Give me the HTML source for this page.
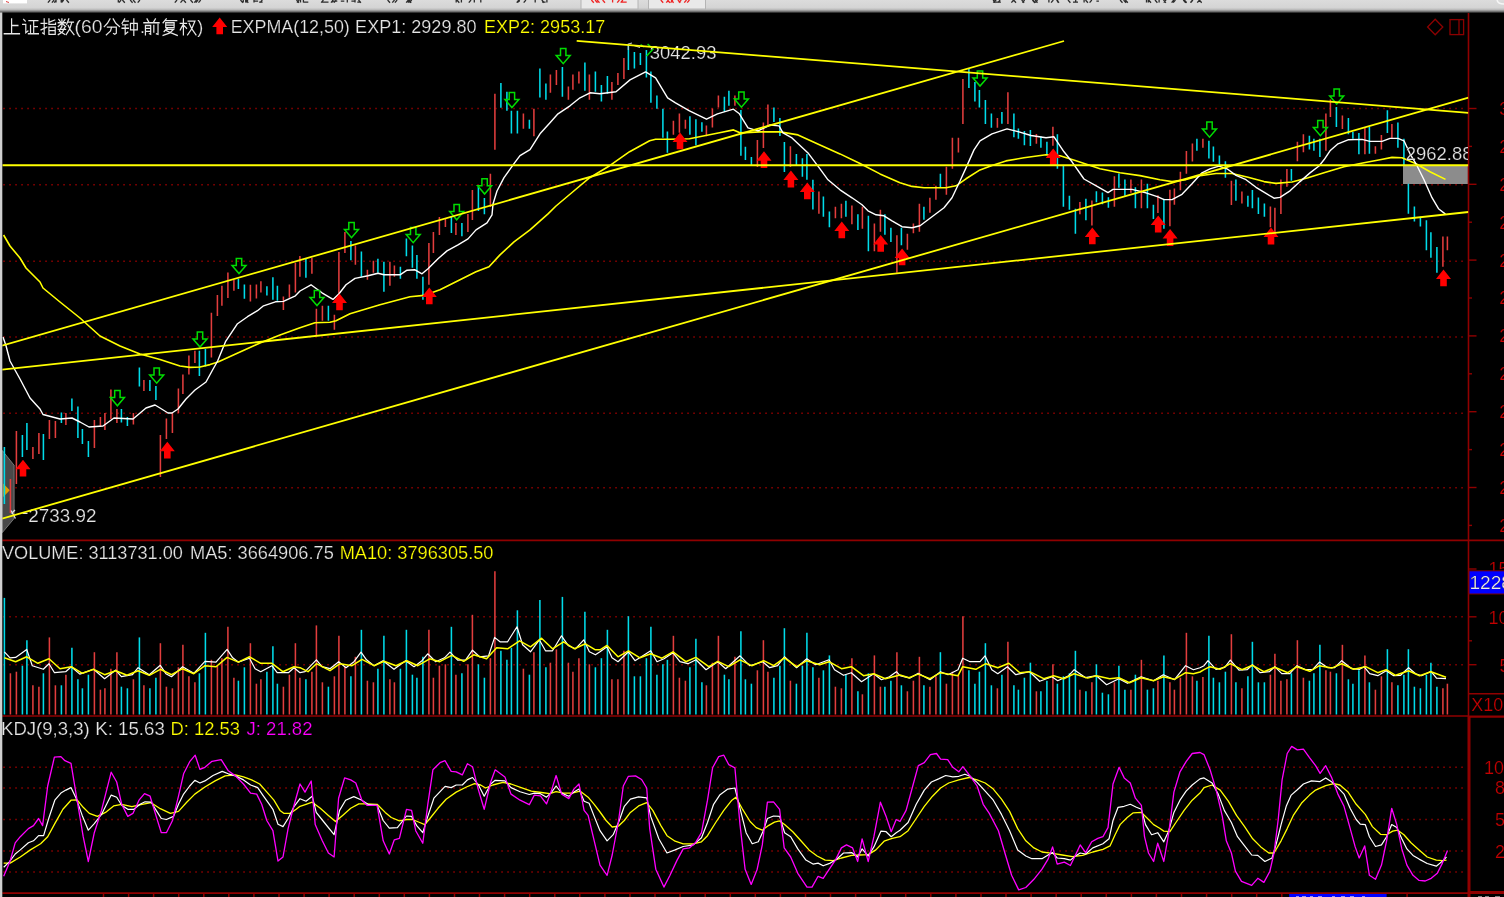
<!DOCTYPE html>
<html><head><meta charset="utf-8"><title>chart</title><style>html,body{margin:0;padding:0;background:#000;overflow:hidden}svg text{white-space:pre}</style></head><body><svg width="1504" height="897" viewBox="0 0 1504 897" style="display:block">
<defs><linearGradient id="tb" x1="0" y1="0" x2="0" y2="1"><stop offset="0" stop-color="#dcdcdc"/><stop offset="0.6" stop-color="#d4d4d4"/><stop offset="0.75" stop-color="#b8b8b8"/><stop offset="0.9" stop-color="#6a6a6a"/><stop offset="1" stop-color="#101010"/></linearGradient><clipPath id="cm"><rect x="2.3" y="12" width="1466" height="528"/></clipPath><clipPath id="ct"><rect x="0" y="0" width="1468" height="897"/></clipPath><path id="ra" d="M0,-0.3 L7.5,9.2 L3.3,9.2 L3.3,16.5 L-3.3,16.5 L-3.3,9.2 L-7.5,9.2 Z"/><path id="ga" d="M-2.7,0.6 L2.7,0.6 L2.7,7.6 L7,7.6 L0,15.8 L-7,7.6 L-2.7,7.6 Z"/></defs>
<rect width="1504" height="897" fill="#000"/>
<filter id="bl" x="0" y="0" width="1504" height="897" filterUnits="userSpaceOnUse"><feGaussianBlur stdDeviation="0.42"/></filter>
<g filter="url(#bl)">
<line x1="3.3" y1="108.5" x2="1464.5" y2="108.5" stroke="#920000" stroke-width="1.5" stroke-dasharray="1.5 4.5"/>
<line x1="3.3" y1="184.7" x2="1464.5" y2="184.7" stroke="#920000" stroke-width="1.5" stroke-dasharray="1.5 4.5"/>
<line x1="3.3" y1="261.3" x2="1464.5" y2="261.3" stroke="#920000" stroke-width="1.5" stroke-dasharray="1.5 4.5"/>
<line x1="3.3" y1="336.9" x2="1464.5" y2="336.9" stroke="#920000" stroke-width="1.5" stroke-dasharray="1.5 4.5"/>
<line x1="3.3" y1="413.2" x2="1464.5" y2="413.2" stroke="#920000" stroke-width="1.5" stroke-dasharray="1.5 4.5"/>
<line x1="3.3" y1="487.8" x2="1464.5" y2="487.8" stroke="#920000" stroke-width="1.5" stroke-dasharray="1.5 4.5"/>
<line x1="3.3" y1="616.8" x2="1464.5" y2="616.8" stroke="#920000" stroke-width="1.5" stroke-dasharray="1.5 4.5"/>
<line x1="3.3" y1="664.7" x2="1464.5" y2="664.7" stroke="#920000" stroke-width="1.5" stroke-dasharray="1.5 4.5"/>
<line x1="3.3" y1="767.3" x2="1464.5" y2="767.3" stroke="#920000" stroke-width="1.5" stroke-dasharray="1.5 4.5"/>
<line x1="3.3" y1="788.0" x2="1464.5" y2="788.0" stroke="#920000" stroke-width="1.5" stroke-dasharray="1.5 4.5"/>
<line x1="3.3" y1="819.5" x2="1464.5" y2="819.5" stroke="#920000" stroke-width="1.5" stroke-dasharray="1.5 4.5"/>
<line x1="3.3" y1="851.0" x2="1464.5" y2="851.0" stroke="#920000" stroke-width="1.5" stroke-dasharray="1.5 4.5"/>
<line x1="3.3" y1="872.1" x2="1464.5" y2="872.1" stroke="#920000" stroke-width="1.5" stroke-dasharray="1.5 4.5"/>
<polygon points="2.3,450.5 14.1,465.3 14.1,518.5 2.3,532.6" fill="#484848" fill-opacity="1" stroke="#8a8a8a" stroke-width="1" stroke-opacity="0.8"/>
<polygon points="3.2,483.6 9.8,490.3 3.2,497" fill="#e0a000"/>
<g clip-path="url(#cm)">
<rect x="1403" y="166" width="65.5" height="18" fill="#8c8c8c"/>
<line x1="4.4" y1="447.0" x2="4.4" y2="504.0" stroke="#00dcea" stroke-width="1.55"/>
<line x1="10.4" y1="479.0" x2="10.4" y2="513.0" stroke="#e23c3c" stroke-width="1.55"/>
<line x1="16.4" y1="431.0" x2="16.4" y2="484.0" stroke="#e23c3c" stroke-width="1.55"/>
<line x1="22.4" y1="435.0" x2="22.4" y2="457.0" stroke="#00dcea" stroke-width="1.55"/>
<line x1="26.9" y1="423.0" x2="26.9" y2="450.0" stroke="#00dcea" stroke-width="1.55"/>
<line x1="32.9" y1="447.0" x2="32.9" y2="459.0" stroke="#e23c3c" stroke-width="1.55"/>
<line x1="38.9" y1="433.0" x2="38.9" y2="454.0" stroke="#e23c3c" stroke-width="1.55"/>
<line x1="43.4" y1="434.0" x2="43.4" y2="460.0" stroke="#00dcea" stroke-width="1.55"/>
<line x1="49.4" y1="420.0" x2="49.4" y2="439.0" stroke="#e23c3c" stroke-width="1.55"/>
<line x1="55.4" y1="421.0" x2="55.4" y2="438.0" stroke="#e23c3c" stroke-width="1.55"/>
<line x1="61.4" y1="412.5" x2="61.4" y2="423.0" stroke="#00dcea" stroke-width="1.55"/>
<line x1="65.9" y1="413.0" x2="65.9" y2="425.0" stroke="#e23c3c" stroke-width="1.55"/>
<line x1="71.9" y1="398.5" x2="71.9" y2="411.0" stroke="#00dcea" stroke-width="1.55"/>
<line x1="77.9" y1="406.5" x2="77.9" y2="438.0" stroke="#00dcea" stroke-width="1.55"/>
<line x1="82.4" y1="429.0" x2="82.4" y2="444.0" stroke="#00dcea" stroke-width="1.55"/>
<line x1="88.4" y1="441.0" x2="88.4" y2="457.0" stroke="#00dcea" stroke-width="1.55"/>
<line x1="94.4" y1="420.0" x2="94.4" y2="448.0" stroke="#e23c3c" stroke-width="1.55"/>
<line x1="100.4" y1="417.0" x2="100.4" y2="427.0" stroke="#e23c3c" stroke-width="1.55"/>
<line x1="104.9" y1="413.0" x2="104.9" y2="430.0" stroke="#e23c3c" stroke-width="1.55"/>
<line x1="110.9" y1="389.5" x2="110.9" y2="419.0" stroke="#e23c3c" stroke-width="1.55"/>
<line x1="116.9" y1="409.0" x2="116.9" y2="423.0" stroke="#e23c3c" stroke-width="1.55"/>
<line x1="121.4" y1="409.0" x2="121.4" y2="422.5" stroke="#00dcea" stroke-width="1.55"/>
<line x1="127.4" y1="417.0" x2="127.4" y2="426.0" stroke="#00dcea" stroke-width="1.55"/>
<line x1="133.4" y1="413.0" x2="133.4" y2="424.5" stroke="#e23c3c" stroke-width="1.55"/>
<line x1="139.4" y1="367.4" x2="139.4" y2="386.5" stroke="#00dcea" stroke-width="1.55"/>
<line x1="143.9" y1="380.0" x2="143.9" y2="391.0" stroke="#e23c3c" stroke-width="1.55"/>
<line x1="149.9" y1="380.0" x2="149.9" y2="391.0" stroke="#00dcea" stroke-width="1.55"/>
<line x1="155.9" y1="386.0" x2="155.9" y2="400.0" stroke="#00dcea" stroke-width="1.55"/>
<line x1="160.4" y1="435.0" x2="160.4" y2="477.0" stroke="#e23c3c" stroke-width="1.55"/>
<line x1="166.4" y1="418.5" x2="166.4" y2="439.0" stroke="#e23c3c" stroke-width="1.55"/>
<line x1="172.4" y1="413.0" x2="172.4" y2="433.0" stroke="#e23c3c" stroke-width="1.55"/>
<line x1="178.4" y1="388.5" x2="178.4" y2="413.0" stroke="#e23c3c" stroke-width="1.55"/>
<line x1="182.9" y1="374.5" x2="182.9" y2="394.0" stroke="#e23c3c" stroke-width="1.55"/>
<line x1="188.9" y1="355.6" x2="188.9" y2="374.5" stroke="#e23c3c" stroke-width="1.55"/>
<line x1="194.9" y1="350.7" x2="194.9" y2="363.0" stroke="#e23c3c" stroke-width="1.55"/>
<line x1="199.4" y1="350.7" x2="199.4" y2="376.0" stroke="#00dcea" stroke-width="1.55"/>
<line x1="205.4" y1="349.0" x2="205.4" y2="366.6" stroke="#00dcea" stroke-width="1.55"/>
<line x1="211.4" y1="312.7" x2="211.4" y2="357.6" stroke="#e23c3c" stroke-width="1.55"/>
<line x1="217.4" y1="295.0" x2="217.4" y2="316.0" stroke="#e23c3c" stroke-width="1.55"/>
<line x1="221.9" y1="285.8" x2="221.9" y2="305.8" stroke="#e23c3c" stroke-width="1.55"/>
<line x1="227.9" y1="272.4" x2="227.9" y2="298.0" stroke="#e23c3c" stroke-width="1.55"/>
<line x1="233.9" y1="279.8" x2="233.9" y2="290.8" stroke="#e23c3c" stroke-width="1.55"/>
<line x1="238.4" y1="278.8" x2="238.4" y2="289.0" stroke="#00dcea" stroke-width="1.55"/>
<line x1="244.4" y1="284.4" x2="244.4" y2="298.8" stroke="#00dcea" stroke-width="1.55"/>
<line x1="250.4" y1="284.8" x2="250.4" y2="301.4" stroke="#e23c3c" stroke-width="1.55"/>
<line x1="256.4" y1="284.4" x2="256.4" y2="298.4" stroke="#e23c3c" stroke-width="1.55"/>
<line x1="260.9" y1="281.2" x2="260.9" y2="292.4" stroke="#e23c3c" stroke-width="1.55"/>
<line x1="266.9" y1="286.2" x2="266.9" y2="295.4" stroke="#00dcea" stroke-width="1.55"/>
<line x1="272.9" y1="277.2" x2="272.9" y2="299.8" stroke="#00dcea" stroke-width="1.55"/>
<line x1="277.4" y1="285.8" x2="277.4" y2="300.8" stroke="#00dcea" stroke-width="1.55"/>
<line x1="283.4" y1="296.4" x2="283.4" y2="310.0" stroke="#e23c3c" stroke-width="1.55"/>
<line x1="289.4" y1="284.4" x2="289.4" y2="297.8" stroke="#e23c3c" stroke-width="1.55"/>
<line x1="295.4" y1="262.8" x2="295.4" y2="292.4" stroke="#e23c3c" stroke-width="1.55"/>
<line x1="299.9" y1="256.0" x2="299.9" y2="276.8" stroke="#e23c3c" stroke-width="1.55"/>
<line x1="305.9" y1="258.8" x2="305.9" y2="277.8" stroke="#00dcea" stroke-width="1.55"/>
<line x1="311.9" y1="257.8" x2="311.9" y2="273.8" stroke="#e23c3c" stroke-width="1.55"/>
<line x1="316.4" y1="308.7" x2="316.4" y2="335.7" stroke="#e23c3c" stroke-width="1.55"/>
<line x1="322.4" y1="305.8" x2="322.4" y2="320.7" stroke="#e23c3c" stroke-width="1.55"/>
<line x1="328.4" y1="305.8" x2="328.4" y2="320.7" stroke="#00dcea" stroke-width="1.55"/>
<line x1="334.4" y1="314.7" x2="334.4" y2="329.7" stroke="#e23c3c" stroke-width="1.55"/>
<line x1="338.9" y1="251.9" x2="338.9" y2="293.8" stroke="#e23c3c" stroke-width="1.55"/>
<line x1="344.9" y1="231.9" x2="344.9" y2="252.9" stroke="#e23c3c" stroke-width="1.55"/>
<line x1="350.9" y1="240.9" x2="350.9" y2="260.2" stroke="#00dcea" stroke-width="1.55"/>
<line x1="355.4" y1="245.5" x2="355.4" y2="264.8" stroke="#e23c3c" stroke-width="1.55"/>
<line x1="361.4" y1="251.5" x2="361.4" y2="276.8" stroke="#00dcea" stroke-width="1.55"/>
<line x1="367.4" y1="269.8" x2="367.4" y2="279.8" stroke="#e23c3c" stroke-width="1.55"/>
<line x1="373.4" y1="260.8" x2="373.4" y2="272.8" stroke="#e23c3c" stroke-width="1.55"/>
<line x1="377.9" y1="258.8" x2="377.9" y2="272.8" stroke="#00dcea" stroke-width="1.55"/>
<line x1="383.9" y1="261.8" x2="383.9" y2="291.8" stroke="#00dcea" stroke-width="1.55"/>
<line x1="389.9" y1="261.8" x2="389.9" y2="285.8" stroke="#e23c3c" stroke-width="1.55"/>
<line x1="394.4" y1="265.4" x2="394.4" y2="276.8" stroke="#e23c3c" stroke-width="1.55"/>
<line x1="400.4" y1="266.8" x2="400.4" y2="278.8" stroke="#00dcea" stroke-width="1.55"/>
<line x1="406.4" y1="238.5" x2="406.4" y2="256.3" stroke="#00dcea" stroke-width="1.55"/>
<line x1="412.4" y1="245.5" x2="412.4" y2="267.8" stroke="#00dcea" stroke-width="1.55"/>
<line x1="416.9" y1="254.9" x2="416.9" y2="278.8" stroke="#00dcea" stroke-width="1.55"/>
<line x1="422.9" y1="276.8" x2="422.9" y2="299.8" stroke="#00dcea" stroke-width="1.55"/>
<line x1="428.9" y1="242.9" x2="428.9" y2="284.8" stroke="#e23c3c" stroke-width="1.55"/>
<line x1="433.4" y1="231.9" x2="433.4" y2="252.9" stroke="#e23c3c" stroke-width="1.55"/>
<line x1="439.4" y1="216.9" x2="439.4" y2="234.9" stroke="#e23c3c" stroke-width="1.55"/>
<line x1="445.4" y1="218.9" x2="445.4" y2="226.9" stroke="#e23c3c" stroke-width="1.55"/>
<line x1="451.4" y1="215.9" x2="451.4" y2="232.9" stroke="#00dcea" stroke-width="1.55"/>
<line x1="455.9" y1="222.9" x2="455.9" y2="234.9" stroke="#e23c3c" stroke-width="1.55"/>
<line x1="461.9" y1="222.9" x2="461.9" y2="236.3" stroke="#00dcea" stroke-width="1.55"/>
<line x1="467.9" y1="213.9" x2="467.9" y2="231.9" stroke="#e23c3c" stroke-width="1.55"/>
<line x1="472.4" y1="190.0" x2="472.4" y2="219.9" stroke="#e23c3c" stroke-width="1.55"/>
<line x1="478.4" y1="187.0" x2="478.4" y2="210.9" stroke="#00dcea" stroke-width="1.55"/>
<line x1="484.4" y1="198.0" x2="484.4" y2="214.3" stroke="#00dcea" stroke-width="1.55"/>
<line x1="490.4" y1="173.7" x2="490.4" y2="207.0" stroke="#e23c3c" stroke-width="1.55"/>
<line x1="494.9" y1="93.8" x2="494.9" y2="149.7" stroke="#e23c3c" stroke-width="1.55"/>
<line x1="500.9" y1="82.9" x2="500.9" y2="107.8" stroke="#00dcea" stroke-width="1.55"/>
<line x1="506.9" y1="91.8" x2="506.9" y2="110.8" stroke="#00dcea" stroke-width="1.55"/>
<line x1="511.4" y1="110.8" x2="511.4" y2="133.4" stroke="#00dcea" stroke-width="1.55"/>
<line x1="517.4" y1="110.8" x2="517.4" y2="133.4" stroke="#00dcea" stroke-width="1.55"/>
<line x1="523.4" y1="113.4" x2="523.4" y2="128.8" stroke="#e23c3c" stroke-width="1.55"/>
<line x1="529.4" y1="119.8" x2="529.4" y2="128.8" stroke="#00dcea" stroke-width="1.55"/>
<line x1="533.9" y1="108.8" x2="533.9" y2="136.2" stroke="#e23c3c" stroke-width="1.55"/>
<line x1="539.9" y1="68.5" x2="539.9" y2="97.4" stroke="#00dcea" stroke-width="1.55"/>
<line x1="545.9" y1="83.5" x2="545.9" y2="99.8" stroke="#00dcea" stroke-width="1.55"/>
<line x1="550.4" y1="74.5" x2="550.4" y2="92.8" stroke="#e23c3c" stroke-width="1.55"/>
<line x1="556.4" y1="69.9" x2="556.4" y2="84.9" stroke="#e23c3c" stroke-width="1.55"/>
<line x1="562.4" y1="66.9" x2="562.4" y2="96.8" stroke="#00dcea" stroke-width="1.55"/>
<line x1="568.4" y1="86.5" x2="568.4" y2="99.8" stroke="#e23c3c" stroke-width="1.55"/>
<line x1="572.9" y1="74.5" x2="572.9" y2="89.8" stroke="#e23c3c" stroke-width="1.55"/>
<line x1="578.9" y1="71.5" x2="578.9" y2="83.5" stroke="#e23c3c" stroke-width="1.55"/>
<line x1="584.9" y1="62.5" x2="584.9" y2="90.8" stroke="#00dcea" stroke-width="1.55"/>
<line x1="589.4" y1="74.5" x2="589.4" y2="99.8" stroke="#e23c3c" stroke-width="1.55"/>
<line x1="595.4" y1="71.5" x2="595.4" y2="91.8" stroke="#00dcea" stroke-width="1.55"/>
<line x1="601.4" y1="84.9" x2="601.4" y2="101.4" stroke="#00dcea" stroke-width="1.55"/>
<line x1="607.4" y1="75.9" x2="607.4" y2="93.8" stroke="#00dcea" stroke-width="1.55"/>
<line x1="611.9" y1="81.9" x2="611.9" y2="99.8" stroke="#e23c3c" stroke-width="1.55"/>
<line x1="617.9" y1="72.9" x2="617.9" y2="84.9" stroke="#e23c3c" stroke-width="1.55"/>
<line x1="623.9" y1="57.9" x2="623.9" y2="78.9" stroke="#e23c3c" stroke-width="1.55"/>
<line x1="628.4" y1="44.9" x2="628.4" y2="69.9" stroke="#00dcea" stroke-width="1.55"/>
<line x1="634.4" y1="51.9" x2="634.4" y2="68.5" stroke="#00dcea" stroke-width="1.55"/>
<line x1="640.4" y1="52.9" x2="640.4" y2="64.9" stroke="#00dcea" stroke-width="1.55"/>
<line x1="646.4" y1="49.9" x2="646.4" y2="77.5" stroke="#00dcea" stroke-width="1.55"/>
<line x1="650.9" y1="71.5" x2="650.9" y2="102.8" stroke="#00dcea" stroke-width="1.55"/>
<line x1="656.9" y1="95.4" x2="656.9" y2="108.8" stroke="#00dcea" stroke-width="1.55"/>
<line x1="662.9" y1="108.8" x2="662.9" y2="137.7" stroke="#00dcea" stroke-width="1.55"/>
<line x1="667.4" y1="131.4" x2="667.4" y2="152.7" stroke="#00dcea" stroke-width="1.55"/>
<line x1="673.4" y1="120.8" x2="673.4" y2="134.8" stroke="#e23c3c" stroke-width="1.55"/>
<line x1="679.4" y1="113.4" x2="679.4" y2="132.8" stroke="#e23c3c" stroke-width="1.55"/>
<line x1="685.4" y1="119.8" x2="685.4" y2="128.8" stroke="#e23c3c" stroke-width="1.55"/>
<line x1="689.9" y1="116.2" x2="689.9" y2="134.8" stroke="#00dcea" stroke-width="1.55"/>
<line x1="695.9" y1="119.2" x2="695.9" y2="145.3" stroke="#00dcea" stroke-width="1.55"/>
<line x1="701.9" y1="122.2" x2="701.9" y2="131.8" stroke="#00dcea" stroke-width="1.55"/>
<line x1="706.4" y1="125.4" x2="706.4" y2="136.2" stroke="#e23c3c" stroke-width="1.55"/>
<line x1="712.4" y1="108.4" x2="712.4" y2="127.4" stroke="#e23c3c" stroke-width="1.55"/>
<line x1="718.4" y1="95.4" x2="718.4" y2="107.4" stroke="#e23c3c" stroke-width="1.55"/>
<line x1="724.4" y1="96.8" x2="724.4" y2="111.8" stroke="#00dcea" stroke-width="1.55"/>
<line x1="728.9" y1="90.8" x2="728.9" y2="105.8" stroke="#00dcea" stroke-width="1.55"/>
<line x1="734.9" y1="95.4" x2="734.9" y2="105.8" stroke="#e23c3c" stroke-width="1.55"/>
<line x1="740.9" y1="110.0" x2="740.9" y2="155.8" stroke="#00dcea" stroke-width="1.55"/>
<line x1="745.4" y1="146.8" x2="745.4" y2="160.0" stroke="#00dcea" stroke-width="1.55"/>
<line x1="751.4" y1="156.9" x2="751.4" y2="164.9" stroke="#00dcea" stroke-width="1.55"/>
<line x1="757.4" y1="139.9" x2="757.4" y2="166.9" stroke="#e23c3c" stroke-width="1.55"/>
<line x1="763.4" y1="122.4" x2="763.4" y2="147.9" stroke="#e23c3c" stroke-width="1.55"/>
<line x1="767.9" y1="104.4" x2="767.9" y2="125.0" stroke="#e23c3c" stroke-width="1.55"/>
<line x1="773.9" y1="107.6" x2="773.9" y2="122.0" stroke="#00dcea" stroke-width="1.55"/>
<line x1="779.9" y1="118.0" x2="779.9" y2="135.9" stroke="#00dcea" stroke-width="1.55"/>
<line x1="784.4" y1="141.9" x2="784.4" y2="171.9" stroke="#00dcea" stroke-width="1.55"/>
<line x1="790.4" y1="146.3" x2="790.4" y2="166.9" stroke="#e23c3c" stroke-width="1.55"/>
<line x1="796.4" y1="153.9" x2="796.4" y2="164.9" stroke="#00dcea" stroke-width="1.55"/>
<line x1="802.4" y1="158.3" x2="802.4" y2="176.8" stroke="#00dcea" stroke-width="1.55"/>
<line x1="806.9" y1="153.9" x2="806.9" y2="179.8" stroke="#00dcea" stroke-width="1.55"/>
<line x1="812.9" y1="179.8" x2="812.9" y2="209.4" stroke="#00dcea" stroke-width="1.55"/>
<line x1="818.9" y1="191.4" x2="818.9" y2="213.8" stroke="#e23c3c" stroke-width="1.55"/>
<line x1="823.4" y1="196.4" x2="823.4" y2="216.8" stroke="#00dcea" stroke-width="1.55"/>
<line x1="829.4" y1="211.4" x2="829.4" y2="227.3" stroke="#00dcea" stroke-width="1.55"/>
<line x1="835.4" y1="206.8" x2="835.4" y2="218.2" stroke="#e23c3c" stroke-width="1.55"/>
<line x1="841.4" y1="203.8" x2="841.4" y2="218.2" stroke="#e23c3c" stroke-width="1.55"/>
<line x1="845.9" y1="200.8" x2="845.9" y2="216.8" stroke="#00dcea" stroke-width="1.55"/>
<line x1="851.9" y1="205.4" x2="851.9" y2="224.2" stroke="#e23c3c" stroke-width="1.55"/>
<line x1="857.9" y1="214.2" x2="857.9" y2="230.1" stroke="#00dcea" stroke-width="1.55"/>
<line x1="862.4" y1="206.8" x2="862.4" y2="228.7" stroke="#e23c3c" stroke-width="1.55"/>
<line x1="868.4" y1="215.8" x2="868.4" y2="251.3" stroke="#00dcea" stroke-width="1.55"/>
<line x1="874.4" y1="223.4" x2="874.4" y2="251.3" stroke="#e23c3c" stroke-width="1.55"/>
<line x1="880.4" y1="209.8" x2="880.4" y2="231.7" stroke="#e23c3c" stroke-width="1.55"/>
<line x1="884.9" y1="214.2" x2="884.9" y2="234.7" stroke="#00dcea" stroke-width="1.55"/>
<line x1="890.9" y1="227.7" x2="890.9" y2="242.1" stroke="#00dcea" stroke-width="1.55"/>
<line x1="896.9" y1="235.3" x2="896.9" y2="272.7" stroke="#e23c3c" stroke-width="1.55"/>
<line x1="901.4" y1="227.7" x2="901.4" y2="245.3" stroke="#00dcea" stroke-width="1.55"/>
<line x1="907.4" y1="233.7" x2="907.4" y2="249.7" stroke="#e23c3c" stroke-width="1.55"/>
<line x1="913.4" y1="223.4" x2="913.4" y2="233.3" stroke="#e23c3c" stroke-width="1.55"/>
<line x1="919.4" y1="203.8" x2="919.4" y2="231.7" stroke="#e23c3c" stroke-width="1.55"/>
<line x1="923.9" y1="206.8" x2="923.9" y2="219.8" stroke="#00dcea" stroke-width="1.55"/>
<line x1="929.9" y1="197.8" x2="929.9" y2="212.8" stroke="#e23c3c" stroke-width="1.55"/>
<line x1="935.9" y1="185.8" x2="935.9" y2="199.8" stroke="#e23c3c" stroke-width="1.55"/>
<line x1="940.4" y1="173.8" x2="940.4" y2="187.0" stroke="#00dcea" stroke-width="1.55"/>
<line x1="946.4" y1="166.8" x2="946.4" y2="194.8" stroke="#e23c3c" stroke-width="1.55"/>
<line x1="952.4" y1="137.8" x2="952.4" y2="168.8" stroke="#e23c3c" stroke-width="1.55"/>
<line x1="958.4" y1="137.8" x2="958.4" y2="152.5" stroke="#e23c3c" stroke-width="1.55"/>
<line x1="962.9" y1="78.9" x2="962.9" y2="123.9" stroke="#e23c3c" stroke-width="1.55"/>
<line x1="968.9" y1="67.9" x2="968.9" y2="87.9" stroke="#00dcea" stroke-width="1.55"/>
<line x1="974.9" y1="81.9" x2="974.9" y2="101.5" stroke="#00dcea" stroke-width="1.55"/>
<line x1="979.4" y1="89.9" x2="979.4" y2="107.5" stroke="#00dcea" stroke-width="1.55"/>
<line x1="985.4" y1="99.9" x2="985.4" y2="123.9" stroke="#00dcea" stroke-width="1.55"/>
<line x1="991.4" y1="113.5" x2="991.4" y2="127.8" stroke="#00dcea" stroke-width="1.55"/>
<line x1="997.4" y1="118.1" x2="997.4" y2="127.8" stroke="#e23c3c" stroke-width="1.55"/>
<line x1="1001.9" y1="111.9" x2="1001.9" y2="123.7" stroke="#00dcea" stroke-width="1.55"/>
<line x1="1007.9" y1="92.3" x2="1007.9" y2="123.9" stroke="#e23c3c" stroke-width="1.55"/>
<line x1="1013.9" y1="113.5" x2="1013.9" y2="137.2" stroke="#00dcea" stroke-width="1.55"/>
<line x1="1018.4" y1="128.4" x2="1018.4" y2="138.8" stroke="#00dcea" stroke-width="1.55"/>
<line x1="1024.4" y1="131.1" x2="1024.4" y2="145.2" stroke="#00dcea" stroke-width="1.55"/>
<line x1="1030.4" y1="130.0" x2="1030.4" y2="146.0" stroke="#00dcea" stroke-width="1.55"/>
<line x1="1036.4" y1="134.0" x2="1036.4" y2="143.8" stroke="#e23c3c" stroke-width="1.55"/>
<line x1="1040.9" y1="136.4" x2="1040.9" y2="147.8" stroke="#00dcea" stroke-width="1.55"/>
<line x1="1046.9" y1="141.8" x2="1046.9" y2="154.8" stroke="#00dcea" stroke-width="1.55"/>
<line x1="1052.9" y1="126.8" x2="1052.9" y2="145.8" stroke="#e23c3c" stroke-width="1.55"/>
<line x1="1057.4" y1="134.2" x2="1057.4" y2="168.8" stroke="#00dcea" stroke-width="1.55"/>
<line x1="1063.4" y1="165.8" x2="1063.4" y2="206.8" stroke="#00dcea" stroke-width="1.55"/>
<line x1="1069.4" y1="195.8" x2="1069.4" y2="209.8" stroke="#00dcea" stroke-width="1.55"/>
<line x1="1075.4" y1="208.8" x2="1075.4" y2="233.8" stroke="#00dcea" stroke-width="1.55"/>
<line x1="1079.9" y1="202.0" x2="1079.9" y2="214.3" stroke="#e23c3c" stroke-width="1.55"/>
<line x1="1085.9" y1="198.8" x2="1085.9" y2="220.3" stroke="#00dcea" stroke-width="1.55"/>
<line x1="1091.9" y1="200.5" x2="1091.9" y2="225.4" stroke="#e23c3c" stroke-width="1.55"/>
<line x1="1096.4" y1="191.3" x2="1096.4" y2="202.2" stroke="#00dcea" stroke-width="1.55"/>
<line x1="1102.4" y1="192.5" x2="1102.4" y2="204.3" stroke="#00dcea" stroke-width="1.55"/>
<line x1="1108.4" y1="197.3" x2="1108.4" y2="207.8" stroke="#00dcea" stroke-width="1.55"/>
<line x1="1114.4" y1="176.3" x2="1114.4" y2="206.8" stroke="#e23c3c" stroke-width="1.55"/>
<line x1="1118.9" y1="173.6" x2="1118.9" y2="187.8" stroke="#00dcea" stroke-width="1.55"/>
<line x1="1124.9" y1="179.6" x2="1124.9" y2="195.8" stroke="#00dcea" stroke-width="1.55"/>
<line x1="1130.9" y1="179.6" x2="1130.9" y2="192.8" stroke="#e23c3c" stroke-width="1.55"/>
<line x1="1135.4" y1="187.3" x2="1135.4" y2="208.3" stroke="#00dcea" stroke-width="1.55"/>
<line x1="1141.4" y1="179.6" x2="1141.4" y2="208.3" stroke="#e23c3c" stroke-width="1.55"/>
<line x1="1147.4" y1="183.8" x2="1147.4" y2="208.3" stroke="#00dcea" stroke-width="1.55"/>
<line x1="1153.4" y1="204.8" x2="1153.4" y2="218.9" stroke="#00dcea" stroke-width="1.55"/>
<line x1="1157.9" y1="195.3" x2="1157.9" y2="212.9" stroke="#e23c3c" stroke-width="1.55"/>
<line x1="1163.9" y1="198.8" x2="1163.9" y2="228.8" stroke="#00dcea" stroke-width="1.55"/>
<line x1="1169.9" y1="189.8" x2="1169.9" y2="226.2" stroke="#e23c3c" stroke-width="1.55"/>
<line x1="1174.4" y1="188.5" x2="1174.4" y2="204.8" stroke="#e23c3c" stroke-width="1.55"/>
<line x1="1180.4" y1="171.8" x2="1180.4" y2="190.3" stroke="#e23c3c" stroke-width="1.55"/>
<line x1="1186.4" y1="150.9" x2="1186.4" y2="173.8" stroke="#e23c3c" stroke-width="1.55"/>
<line x1="1192.4" y1="143.4" x2="1192.4" y2="161.4" stroke="#e23c3c" stroke-width="1.55"/>
<line x1="1196.9" y1="138.8" x2="1196.9" y2="150.8" stroke="#00dcea" stroke-width="1.55"/>
<line x1="1202.9" y1="138.8" x2="1202.9" y2="147.8" stroke="#e23c3c" stroke-width="1.55"/>
<line x1="1208.9" y1="140.8" x2="1208.9" y2="158.6" stroke="#00dcea" stroke-width="1.55"/>
<line x1="1213.4" y1="146.5" x2="1213.4" y2="161.7" stroke="#00dcea" stroke-width="1.55"/>
<line x1="1219.4" y1="155.5" x2="1219.4" y2="165.9" stroke="#00dcea" stroke-width="1.55"/>
<line x1="1225.4" y1="161.3" x2="1225.4" y2="177.8" stroke="#00dcea" stroke-width="1.55"/>
<line x1="1231.4" y1="180.8" x2="1231.4" y2="205.0" stroke="#e23c3c" stroke-width="1.55"/>
<line x1="1235.9" y1="179.4" x2="1235.9" y2="200.8" stroke="#00dcea" stroke-width="1.55"/>
<line x1="1241.9" y1="191.4" x2="1241.9" y2="203.6" stroke="#e23c3c" stroke-width="1.55"/>
<line x1="1247.9" y1="195.8" x2="1247.9" y2="206.8" stroke="#00dcea" stroke-width="1.55"/>
<line x1="1252.4" y1="190.0" x2="1252.4" y2="208.2" stroke="#00dcea" stroke-width="1.55"/>
<line x1="1258.4" y1="197.4" x2="1258.4" y2="214.0" stroke="#00dcea" stroke-width="1.55"/>
<line x1="1264.4" y1="203.4" x2="1264.4" y2="216.8" stroke="#00dcea" stroke-width="1.55"/>
<line x1="1270.4" y1="206.5" x2="1270.4" y2="227.3" stroke="#e23c3c" stroke-width="1.55"/>
<line x1="1274.9" y1="207.8" x2="1274.9" y2="233.8" stroke="#e23c3c" stroke-width="1.55"/>
<line x1="1280.9" y1="179.5" x2="1280.9" y2="214.0" stroke="#e23c3c" stroke-width="1.55"/>
<line x1="1286.9" y1="168.9" x2="1286.9" y2="186.8" stroke="#e23c3c" stroke-width="1.55"/>
<line x1="1291.4" y1="168.9" x2="1291.4" y2="180.8" stroke="#00dcea" stroke-width="1.55"/>
<line x1="1297.4" y1="141.8" x2="1297.4" y2="161.2" stroke="#e23c3c" stroke-width="1.55"/>
<line x1="1303.4" y1="134.3" x2="1303.4" y2="152.3" stroke="#e23c3c" stroke-width="1.55"/>
<line x1="1309.4" y1="135.8" x2="1309.4" y2="149.4" stroke="#00dcea" stroke-width="1.55"/>
<line x1="1313.9" y1="138.8" x2="1313.9" y2="150.8" stroke="#00dcea" stroke-width="1.55"/>
<line x1="1319.9" y1="138.8" x2="1319.9" y2="156.9" stroke="#00dcea" stroke-width="1.55"/>
<line x1="1325.9" y1="113.5" x2="1325.9" y2="150.8" stroke="#e23c3c" stroke-width="1.55"/>
<line x1="1330.4" y1="99.5" x2="1330.4" y2="116.9" stroke="#e23c3c" stroke-width="1.55"/>
<line x1="1336.4" y1="106.9" x2="1336.4" y2="126.9" stroke="#00dcea" stroke-width="1.55"/>
<line x1="1342.4" y1="115.5" x2="1342.4" y2="128.9" stroke="#e23c3c" stroke-width="1.55"/>
<line x1="1348.4" y1="117.9" x2="1348.4" y2="134.3" stroke="#00dcea" stroke-width="1.55"/>
<line x1="1352.9" y1="131.9" x2="1352.9" y2="138.8" stroke="#00dcea" stroke-width="1.55"/>
<line x1="1358.9" y1="132.9" x2="1358.9" y2="154.2" stroke="#00dcea" stroke-width="1.55"/>
<line x1="1364.9" y1="127.9" x2="1364.9" y2="154.2" stroke="#e23c3c" stroke-width="1.55"/>
<line x1="1369.4" y1="126.9" x2="1369.4" y2="153.8" stroke="#00dcea" stroke-width="1.55"/>
<line x1="1375.4" y1="146.2" x2="1375.4" y2="153.8" stroke="#e23c3c" stroke-width="1.55"/>
<line x1="1381.4" y1="134.9" x2="1381.4" y2="149.4" stroke="#e23c3c" stroke-width="1.55"/>
<line x1="1387.4" y1="110.3" x2="1387.4" y2="132.9" stroke="#00dcea" stroke-width="1.55"/>
<line x1="1391.9" y1="123.9" x2="1391.9" y2="138.8" stroke="#e23c3c" stroke-width="1.55"/>
<line x1="1397.9" y1="122.5" x2="1397.9" y2="147.8" stroke="#00dcea" stroke-width="1.55"/>
<line x1="1403.9" y1="138.8" x2="1403.9" y2="165.8" stroke="#00dcea" stroke-width="1.55"/>
<line x1="1408.4" y1="183.8" x2="1408.4" y2="213.8" stroke="#00dcea" stroke-width="1.55"/>
<line x1="1414.4" y1="206.5" x2="1414.4" y2="221.4" stroke="#00dcea" stroke-width="1.55"/>
<line x1="1420.4" y1="216.8" x2="1420.4" y2="226.5" stroke="#00dcea" stroke-width="1.55"/>
<line x1="1426.4" y1="220.3" x2="1426.4" y2="250.3" stroke="#00dcea" stroke-width="1.55"/>
<line x1="1430.9" y1="232.2" x2="1430.9" y2="257.8" stroke="#00dcea" stroke-width="1.55"/>
<line x1="1436.9" y1="246.9" x2="1436.9" y2="272.8" stroke="#00dcea" stroke-width="1.55"/>
<line x1="1442.9" y1="236.4" x2="1442.9" y2="266.8" stroke="#e23c3c" stroke-width="1.55"/>
<line x1="1447.4" y1="236.4" x2="1447.4" y2="250.3" stroke="#e23c3c" stroke-width="1.55"/>
<polyline points="3.6,235.0 10.0,246.0 20.0,258.0 26.0,268.0 40.0,282.0 43.0,288.0 60.0,302.0 80.0,318.0 100.0,336.0 120.0,346.0 140.0,354.0 160.0,359.6 180.0,366.0 190.0,367.4 200.0,367.0 210.0,364.6 218.0,362.0 240.0,352.0 260.0,343.0 280.0,335.0 300.0,327.7 315.0,322.7 330.0,322.3 336.0,320.7 350.0,313.7 380.0,304.8 410.0,296.8 424.0,295.4 440.0,289.8 460.0,279.8 476.0,271.8 489.0,266.8 500.0,254.9 514.0,241.9 530.0,229.9 548.0,213.9 556.0,206.0 573.8,191.0 589.7,177.7 609.7,165.7 629.6,151.7 649.6,140.7 655.6,139.3 669.6,139.3 689.5,138.7 709.5,134.8 722.0,132.2 733.5,129.9 740.5,132.9 760.0,131.9 780.0,131.9 798.0,134.9 820.0,144.9 840.0,153.9 860.0,163.5 880.0,173.9 900.0,182.8 912.0,186.4 924.0,187.8 946.0,187.8 956.0,185.8 966.0,178.8 980.0,169.9 992.0,165.5 1006.0,160.9 1024.0,157.8 1046.0,154.8 1060.0,155.8 1076.0,160.8 1100.0,168.7 1120.0,172.7 1140.0,175.6 1160.0,179.8 1172.0,181.6 1186.0,179.6 1200.0,175.8 1216.0,173.5 1232.0,173.5 1248.0,177.3 1264.0,181.6 1276.0,183.4 1292.0,182.0 1308.0,177.8 1324.0,172.8 1344.0,166.8 1364.0,162.8 1380.0,159.8 1392.0,157.4 1402.0,157.8 1416.0,163.8 1430.0,171.8 1445.5,179.4" fill="none" stroke="#ffff00" stroke-width="1.6" stroke-linejoin="round"/>
<polyline points="3.0,337.0 6.0,345.7 10.0,361.0 20.0,379.0 30.0,398.0 40.0,409.0 43.0,414.5 60.0,419.0 72.0,418.0 80.0,422.0 89.0,427.0 103.0,426.0 114.0,418.0 133.0,419.0 146.0,408.0 155.0,405.0 160.0,408.0 168.0,413.0 172.0,413.0 178.0,409.0 186.0,399.0 195.0,390.0 206.0,382.0 212.0,371.0 217.6,361.0 225.5,341.7 237.5,323.7 247.5,316.7 257.5,310.7 263.5,305.8 275.4,301.8 283.4,301.4 295.4,295.8 300.0,291.0 311.0,284.8 322.0,292.8 333.0,299.4 339.0,293.8 346.0,284.8 355.0,278.4 368.0,275.8 378.0,273.2 384.0,274.8 400.0,274.8 407.0,270.2 415.0,269.8 422.0,273.8 428.0,268.8 438.0,258.8 447.0,250.9 458.0,244.9 468.0,238.9 476.0,229.9 487.0,222.9 492.0,214.9 493.0,204.0 497.0,191.0 504.0,177.7 514.0,163.7 520.0,155.7 530.0,149.7 540.0,133.8 550.0,122.8 558.0,113.8 570.0,105.8 580.0,97.8 590.0,92.8 600.0,93.8 616.0,91.8 630.0,79.9 645.6,71.9 655.6,77.9 667.6,97.8 675.5,102.8 689.5,110.8 706.5,119.2 717.5,113.8 733.4,109.2 739.4,113.8 748.0,127.9 758.0,130.9 770.0,125.0 779.0,125.9 783.0,132.9 792.0,137.9 808.0,152.9 820.0,168.9 828.0,179.8 840.0,189.8 852.0,197.8 862.0,204.8 868.0,210.8 876.0,214.8 884.0,215.8 892.0,220.8 902.0,226.7 912.0,227.7 920.0,225.7 932.0,216.8 944.0,207.8 952.0,197.8 960.0,181.0 966.0,167.9 974.0,149.9 980.0,140.9 992.0,133.9 1007.0,128.9 1019.0,131.9 1031.0,135.5 1046.0,137.8 1054.0,136.8 1064.0,151.8 1072.0,161.8 1084.0,179.0 1098.0,186.8 1108.0,192.6 1113.0,189.4 1132.0,189.4 1146.0,192.8 1158.0,196.8 1164.0,199.6 1172.0,199.6 1182.0,194.3 1192.0,183.8 1202.0,172.8 1210.0,168.8 1219.0,166.2 1227.0,168.8 1236.0,175.4 1246.0,179.7 1256.0,187.3 1266.0,193.3 1274.0,198.2 1280.0,197.4 1290.0,190.8 1300.0,181.6 1310.0,172.9 1319.0,166.0 1324.0,159.8 1330.0,150.8 1338.0,143.8 1348.0,139.8 1362.0,139.4 1370.0,141.4 1382.0,141.4 1390.0,138.4 1398.0,138.4 1404.0,140.8 1410.0,153.8 1416.0,163.8 1424.0,179.8 1432.0,197.7 1438.5,208.7 1445.5,214.1" fill="none" stroke="#ffffff" stroke-width="1.4" stroke-linejoin="round"/>
<use href="#ga" x="117.4" y="390" fill="none" stroke="#00dc00" stroke-width="1.5"/>
<use href="#ga" x="156.7" y="367.4" fill="none" stroke="#00dc00" stroke-width="1.5"/>
<use href="#ga" x="200" y="331.3" fill="none" stroke="#00dc00" stroke-width="1.5"/>
<use href="#ga" x="239" y="257.8" fill="none" stroke="#00dc00" stroke-width="1.5"/>
<use href="#ga" x="317" y="289.8" fill="none" stroke="#00dc00" stroke-width="1.5"/>
<use href="#ga" x="351.5" y="221.9" fill="none" stroke="#00dc00" stroke-width="1.5"/>
<use href="#ga" x="413.2" y="226.9" fill="none" stroke="#00dc00" stroke-width="1.5"/>
<use href="#ga" x="456.7" y="204" fill="none" stroke="#00dc00" stroke-width="1.5"/>
<use href="#ga" x="484.6" y="178.2" fill="none" stroke="#00dc00" stroke-width="1.5"/>
<use href="#ga" x="511.9" y="91.8" fill="none" stroke="#00dc00" stroke-width="1.5"/>
<use href="#ga" x="563.2" y="47.9" fill="none" stroke="#00dc00" stroke-width="1.5"/>
<path d="M640.6,44.5 L644.1,47.0 M647.6,44.0 L653.1,49.1 L646.6,56.0" fill="none" stroke="#00dc00" stroke-width="1.5"/>
<use href="#ga" x="741.4" y="91.4" fill="none" stroke="#00dc00" stroke-width="1.5"/>
<use href="#ga" x="980" y="70.3" fill="none" stroke="#00dc00" stroke-width="1.5"/>
<use href="#ga" x="1209.5" y="121.4" fill="none" stroke="#00dc00" stroke-width="1.5"/>
<use href="#ga" x="1320.4" y="119.9" fill="none" stroke="#00dc00" stroke-width="1.5"/>
<use href="#ga" x="1336.7" y="88.3" fill="none" stroke="#00dc00" stroke-width="1.5"/>
<use href="#ra" x="23" y="460" fill="#ff0000"/>
<use href="#ra" x="167.3" y="442" fill="#ff0000"/>
<use href="#ra" x="339.5" y="293.8" fill="#ff0000"/>
<use href="#ra" x="429.3" y="287.8" fill="#ff0000"/>
<use href="#ra" x="680" y="132.8" fill="#ff0000"/>
<use href="#ra" x="764" y="151.5" fill="#ff0000"/>
<use href="#ra" x="790.9" y="170.9" fill="#ff0000"/>
<use href="#ra" x="807.3" y="182.8" fill="#ff0000"/>
<use href="#ra" x="841.8" y="221.8" fill="#ff0000"/>
<use href="#ra" x="880.7" y="235.3" fill="#ff0000"/>
<use href="#ra" x="902.1" y="248.7" fill="#ff0000"/>
<use href="#ra" x="1053.2" y="148.8" fill="#ff0000"/>
<use href="#ra" x="1092.3" y="227.8" fill="#ff0000"/>
<use href="#ra" x="1158.2" y="215.9" fill="#ff0000"/>
<use href="#ra" x="1170.1" y="229.4" fill="#ff0000"/>
<use href="#ra" x="1271" y="227.9" fill="#ff0000"/>
<use href="#ra" x="1443.5" y="269.8" fill="#ff0000"/>
</g>
<path d="M628.3,43.5 L628.3,50 M628.3,44 L632,43 M634,45.5 L640,47.5" stroke="#c8c8c8" stroke-width="1.1" fill="none"/>
<path d="M11,510.5 L15.5,518.5 M15,510 L11.5,513.5 M22.5,513.3 L27.5,513.3" stroke="#e0e0e0" stroke-width="1.2" fill="none"/>
<line x1="4.4" y1="597.9" x2="4.4" y2="714.5" stroke="#00dcea" stroke-width="1.55"/>
<line x1="10.4" y1="673.3" x2="10.4" y2="714.5" stroke="#e23c3c" stroke-width="1.55"/>
<line x1="16.4" y1="671.7" x2="16.4" y2="714.5" stroke="#e23c3c" stroke-width="1.55"/>
<line x1="22.4" y1="665.7" x2="22.4" y2="714.5" stroke="#00dcea" stroke-width="1.55"/>
<line x1="26.9" y1="640.2" x2="26.9" y2="714.5" stroke="#00dcea" stroke-width="1.55"/>
<line x1="32.9" y1="685.3" x2="32.9" y2="714.5" stroke="#e23c3c" stroke-width="1.55"/>
<line x1="38.9" y1="686.7" x2="38.9" y2="714.5" stroke="#e23c3c" stroke-width="1.55"/>
<line x1="43.4" y1="673.3" x2="43.4" y2="714.5" stroke="#00dcea" stroke-width="1.55"/>
<line x1="49.4" y1="637.4" x2="49.4" y2="714.5" stroke="#e23c3c" stroke-width="1.55"/>
<line x1="55.4" y1="685.3" x2="55.4" y2="714.5" stroke="#e23c3c" stroke-width="1.55"/>
<line x1="61.4" y1="685.3" x2="61.4" y2="714.5" stroke="#00dcea" stroke-width="1.55"/>
<line x1="65.9" y1="674.7" x2="65.9" y2="714.5" stroke="#e23c3c" stroke-width="1.55"/>
<line x1="71.9" y1="647.8" x2="71.9" y2="714.5" stroke="#00dcea" stroke-width="1.55"/>
<line x1="77.9" y1="679.3" x2="77.9" y2="714.5" stroke="#00dcea" stroke-width="1.55"/>
<line x1="82.4" y1="688.3" x2="82.4" y2="714.5" stroke="#00dcea" stroke-width="1.55"/>
<line x1="88.4" y1="674.7" x2="88.4" y2="714.5" stroke="#00dcea" stroke-width="1.55"/>
<line x1="94.4" y1="652.2" x2="94.4" y2="714.5" stroke="#e23c3c" stroke-width="1.55"/>
<line x1="100.4" y1="689.7" x2="100.4" y2="714.5" stroke="#e23c3c" stroke-width="1.55"/>
<line x1="104.9" y1="688.3" x2="104.9" y2="714.5" stroke="#e23c3c" stroke-width="1.55"/>
<line x1="110.9" y1="668.7" x2="110.9" y2="714.5" stroke="#e23c3c" stroke-width="1.55"/>
<line x1="116.9" y1="652.2" x2="116.9" y2="714.5" stroke="#e23c3c" stroke-width="1.55"/>
<line x1="121.4" y1="686.7" x2="121.4" y2="714.5" stroke="#00dcea" stroke-width="1.55"/>
<line x1="127.4" y1="688.3" x2="127.4" y2="714.5" stroke="#00dcea" stroke-width="1.55"/>
<line x1="133.4" y1="679.3" x2="133.4" y2="714.5" stroke="#e23c3c" stroke-width="1.55"/>
<line x1="139.4" y1="637.4" x2="139.4" y2="714.5" stroke="#00dcea" stroke-width="1.55"/>
<line x1="143.9" y1="685.3" x2="143.9" y2="714.5" stroke="#e23c3c" stroke-width="1.55"/>
<line x1="149.9" y1="688.3" x2="149.9" y2="714.5" stroke="#00dcea" stroke-width="1.55"/>
<line x1="155.9" y1="677.7" x2="155.9" y2="714.5" stroke="#00dcea" stroke-width="1.55"/>
<line x1="160.4" y1="643.2" x2="160.4" y2="714.5" stroke="#e23c3c" stroke-width="1.55"/>
<line x1="166.4" y1="686.7" x2="166.4" y2="714.5" stroke="#e23c3c" stroke-width="1.55"/>
<line x1="172.4" y1="688.3" x2="172.4" y2="714.5" stroke="#e23c3c" stroke-width="1.55"/>
<line x1="178.4" y1="667.3" x2="178.4" y2="714.5" stroke="#e23c3c" stroke-width="1.55"/>
<line x1="182.9" y1="644.8" x2="182.9" y2="714.5" stroke="#e23c3c" stroke-width="1.55"/>
<line x1="188.9" y1="676.3" x2="188.9" y2="714.5" stroke="#e23c3c" stroke-width="1.55"/>
<line x1="194.9" y1="682.3" x2="194.9" y2="714.5" stroke="#e23c3c" stroke-width="1.55"/>
<line x1="199.4" y1="673.3" x2="199.4" y2="714.5" stroke="#00dcea" stroke-width="1.55"/>
<line x1="205.4" y1="632.8" x2="205.4" y2="714.5" stroke="#00dcea" stroke-width="1.55"/>
<line x1="211.4" y1="659.8" x2="211.4" y2="714.5" stroke="#e23c3c" stroke-width="1.55"/>
<line x1="217.4" y1="665.7" x2="217.4" y2="714.5" stroke="#e23c3c" stroke-width="1.55"/>
<line x1="221.9" y1="658.2" x2="221.9" y2="714.5" stroke="#e23c3c" stroke-width="1.55"/>
<line x1="227.9" y1="626.8" x2="227.9" y2="714.5" stroke="#e23c3c" stroke-width="1.55"/>
<line x1="233.9" y1="677.7" x2="233.9" y2="714.5" stroke="#e23c3c" stroke-width="1.55"/>
<line x1="238.4" y1="680.7" x2="238.4" y2="714.5" stroke="#00dcea" stroke-width="1.55"/>
<line x1="244.4" y1="667.3" x2="244.4" y2="714.5" stroke="#00dcea" stroke-width="1.55"/>
<line x1="250.4" y1="643.2" x2="250.4" y2="714.5" stroke="#e23c3c" stroke-width="1.55"/>
<line x1="256.4" y1="683.7" x2="256.4" y2="714.5" stroke="#e23c3c" stroke-width="1.55"/>
<line x1="260.9" y1="679.3" x2="260.9" y2="714.5" stroke="#e23c3c" stroke-width="1.55"/>
<line x1="266.9" y1="671.7" x2="266.9" y2="714.5" stroke="#00dcea" stroke-width="1.55"/>
<line x1="272.9" y1="646.2" x2="272.9" y2="714.5" stroke="#00dcea" stroke-width="1.55"/>
<line x1="277.4" y1="683.7" x2="277.4" y2="714.5" stroke="#00dcea" stroke-width="1.55"/>
<line x1="283.4" y1="686.7" x2="283.4" y2="714.5" stroke="#e23c3c" stroke-width="1.55"/>
<line x1="289.4" y1="674.7" x2="289.4" y2="714.5" stroke="#e23c3c" stroke-width="1.55"/>
<line x1="295.4" y1="643.2" x2="295.4" y2="714.5" stroke="#e23c3c" stroke-width="1.55"/>
<line x1="299.9" y1="677.7" x2="299.9" y2="714.5" stroke="#e23c3c" stroke-width="1.55"/>
<line x1="305.9" y1="679.3" x2="305.9" y2="714.5" stroke="#00dcea" stroke-width="1.55"/>
<line x1="311.9" y1="671.7" x2="311.9" y2="714.5" stroke="#e23c3c" stroke-width="1.55"/>
<line x1="316.4" y1="625.4" x2="316.4" y2="714.5" stroke="#e23c3c" stroke-width="1.55"/>
<line x1="322.4" y1="682.3" x2="322.4" y2="714.5" stroke="#e23c3c" stroke-width="1.55"/>
<line x1="328.4" y1="686.7" x2="328.4" y2="714.5" stroke="#00dcea" stroke-width="1.55"/>
<line x1="334.4" y1="676.3" x2="334.4" y2="714.5" stroke="#e23c3c" stroke-width="1.55"/>
<line x1="338.9" y1="635.8" x2="338.9" y2="714.5" stroke="#e23c3c" stroke-width="1.55"/>
<line x1="344.9" y1="666.7" x2="344.9" y2="714.5" stroke="#e23c3c" stroke-width="1.55"/>
<line x1="350.9" y1="676.3" x2="350.9" y2="714.5" stroke="#00dcea" stroke-width="1.55"/>
<line x1="355.4" y1="656.8" x2="355.4" y2="714.5" stroke="#e23c3c" stroke-width="1.55"/>
<line x1="361.4" y1="629.8" x2="361.4" y2="714.5" stroke="#00dcea" stroke-width="1.55"/>
<line x1="367.4" y1="680.7" x2="367.4" y2="714.5" stroke="#e23c3c" stroke-width="1.55"/>
<line x1="373.4" y1="682.3" x2="373.4" y2="714.5" stroke="#e23c3c" stroke-width="1.55"/>
<line x1="377.9" y1="668.7" x2="377.9" y2="714.5" stroke="#00dcea" stroke-width="1.55"/>
<line x1="383.9" y1="635.8" x2="383.9" y2="714.5" stroke="#00dcea" stroke-width="1.55"/>
<line x1="389.9" y1="679.3" x2="389.9" y2="714.5" stroke="#e23c3c" stroke-width="1.55"/>
<line x1="394.4" y1="682.3" x2="394.4" y2="714.5" stroke="#e23c3c" stroke-width="1.55"/>
<line x1="400.4" y1="668.7" x2="400.4" y2="714.5" stroke="#00dcea" stroke-width="1.55"/>
<line x1="406.4" y1="629.8" x2="406.4" y2="714.5" stroke="#00dcea" stroke-width="1.55"/>
<line x1="412.4" y1="674.7" x2="412.4" y2="714.5" stroke="#00dcea" stroke-width="1.55"/>
<line x1="416.9" y1="677.7" x2="416.9" y2="714.5" stroke="#00dcea" stroke-width="1.55"/>
<line x1="422.9" y1="656.8" x2="422.9" y2="714.5" stroke="#00dcea" stroke-width="1.55"/>
<line x1="428.9" y1="629.8" x2="428.9" y2="714.5" stroke="#e23c3c" stroke-width="1.55"/>
<line x1="433.4" y1="677.7" x2="433.4" y2="714.5" stroke="#e23c3c" stroke-width="1.55"/>
<line x1="439.4" y1="665.7" x2="439.4" y2="714.5" stroke="#e23c3c" stroke-width="1.55"/>
<line x1="445.4" y1="664.3" x2="445.4" y2="714.5" stroke="#e23c3c" stroke-width="1.55"/>
<line x1="451.4" y1="626.8" x2="451.4" y2="714.5" stroke="#00dcea" stroke-width="1.55"/>
<line x1="455.9" y1="674.7" x2="455.9" y2="714.5" stroke="#e23c3c" stroke-width="1.55"/>
<line x1="461.9" y1="673.3" x2="461.9" y2="714.5" stroke="#00dcea" stroke-width="1.55"/>
<line x1="467.9" y1="664.3" x2="467.9" y2="714.5" stroke="#e23c3c" stroke-width="1.55"/>
<line x1="472.4" y1="614.8" x2="472.4" y2="714.5" stroke="#e23c3c" stroke-width="1.55"/>
<line x1="478.4" y1="664.3" x2="478.4" y2="714.5" stroke="#00dcea" stroke-width="1.55"/>
<line x1="484.4" y1="677.7" x2="484.4" y2="714.5" stroke="#00dcea" stroke-width="1.55"/>
<line x1="490.4" y1="658.2" x2="490.4" y2="714.5" stroke="#e23c3c" stroke-width="1.55"/>
<line x1="494.9" y1="571.3" x2="494.9" y2="714.5" stroke="#e23c3c" stroke-width="1.55"/>
<line x1="500.9" y1="650.8" x2="500.9" y2="714.5" stroke="#00dcea" stroke-width="1.55"/>
<line x1="506.9" y1="659.8" x2="506.9" y2="714.5" stroke="#00dcea" stroke-width="1.55"/>
<line x1="511.4" y1="647.8" x2="511.4" y2="714.5" stroke="#00dcea" stroke-width="1.55"/>
<line x1="517.4" y1="610.3" x2="517.4" y2="714.5" stroke="#00dcea" stroke-width="1.55"/>
<line x1="523.4" y1="668.7" x2="523.4" y2="714.5" stroke="#e23c3c" stroke-width="1.55"/>
<line x1="529.4" y1="674.7" x2="529.4" y2="714.5" stroke="#00dcea" stroke-width="1.55"/>
<line x1="533.9" y1="652.2" x2="533.9" y2="714.5" stroke="#e23c3c" stroke-width="1.55"/>
<line x1="539.9" y1="599.9" x2="539.9" y2="714.5" stroke="#00dcea" stroke-width="1.55"/>
<line x1="545.9" y1="667.3" x2="545.9" y2="714.5" stroke="#00dcea" stroke-width="1.55"/>
<line x1="550.4" y1="662.7" x2="550.4" y2="714.5" stroke="#e23c3c" stroke-width="1.55"/>
<line x1="556.4" y1="649.4" x2="556.4" y2="714.5" stroke="#e23c3c" stroke-width="1.55"/>
<line x1="562.4" y1="596.9" x2="562.4" y2="714.5" stroke="#00dcea" stroke-width="1.55"/>
<line x1="568.4" y1="662.7" x2="568.4" y2="714.5" stroke="#e23c3c" stroke-width="1.55"/>
<line x1="572.9" y1="671.7" x2="572.9" y2="714.5" stroke="#e23c3c" stroke-width="1.55"/>
<line x1="578.9" y1="658.2" x2="578.9" y2="714.5" stroke="#e23c3c" stroke-width="1.55"/>
<line x1="584.9" y1="611.8" x2="584.9" y2="714.5" stroke="#00dcea" stroke-width="1.55"/>
<line x1="589.4" y1="664.3" x2="589.4" y2="714.5" stroke="#e23c3c" stroke-width="1.55"/>
<line x1="595.4" y1="667.3" x2="595.4" y2="714.5" stroke="#00dcea" stroke-width="1.55"/>
<line x1="601.4" y1="658.2" x2="601.4" y2="714.5" stroke="#00dcea" stroke-width="1.55"/>
<line x1="607.4" y1="629.8" x2="607.4" y2="714.5" stroke="#00dcea" stroke-width="1.55"/>
<line x1="611.9" y1="679.3" x2="611.9" y2="714.5" stroke="#e23c3c" stroke-width="1.55"/>
<line x1="617.9" y1="679.3" x2="617.9" y2="714.5" stroke="#e23c3c" stroke-width="1.55"/>
<line x1="623.9" y1="650.8" x2="623.9" y2="714.5" stroke="#e23c3c" stroke-width="1.55"/>
<line x1="628.4" y1="616.2" x2="628.4" y2="714.5" stroke="#00dcea" stroke-width="1.55"/>
<line x1="634.4" y1="676.3" x2="634.4" y2="714.5" stroke="#00dcea" stroke-width="1.55"/>
<line x1="640.4" y1="676.3" x2="640.4" y2="714.5" stroke="#00dcea" stroke-width="1.55"/>
<line x1="646.4" y1="658.2" x2="646.4" y2="714.5" stroke="#00dcea" stroke-width="1.55"/>
<line x1="650.9" y1="626.8" x2="650.9" y2="714.5" stroke="#00dcea" stroke-width="1.55"/>
<line x1="656.9" y1="674.7" x2="656.9" y2="714.5" stroke="#00dcea" stroke-width="1.55"/>
<line x1="662.9" y1="664.3" x2="662.9" y2="714.5" stroke="#00dcea" stroke-width="1.55"/>
<line x1="667.4" y1="659.8" x2="667.4" y2="714.5" stroke="#00dcea" stroke-width="1.55"/>
<line x1="673.4" y1="635.8" x2="673.4" y2="714.5" stroke="#e23c3c" stroke-width="1.55"/>
<line x1="679.4" y1="677.7" x2="679.4" y2="714.5" stroke="#e23c3c" stroke-width="1.55"/>
<line x1="685.4" y1="680.7" x2="685.4" y2="714.5" stroke="#e23c3c" stroke-width="1.55"/>
<line x1="689.9" y1="667.3" x2="689.9" y2="714.5" stroke="#00dcea" stroke-width="1.55"/>
<line x1="695.9" y1="638.8" x2="695.9" y2="714.5" stroke="#00dcea" stroke-width="1.55"/>
<line x1="701.9" y1="682.3" x2="701.9" y2="714.5" stroke="#00dcea" stroke-width="1.55"/>
<line x1="706.4" y1="685.3" x2="706.4" y2="714.5" stroke="#e23c3c" stroke-width="1.55"/>
<line x1="712.4" y1="662.7" x2="712.4" y2="714.5" stroke="#e23c3c" stroke-width="1.55"/>
<line x1="718.4" y1="635.8" x2="718.4" y2="714.5" stroke="#e23c3c" stroke-width="1.55"/>
<line x1="724.4" y1="674.7" x2="724.4" y2="714.5" stroke="#00dcea" stroke-width="1.55"/>
<line x1="728.9" y1="679.3" x2="728.9" y2="714.5" stroke="#00dcea" stroke-width="1.55"/>
<line x1="734.9" y1="656.8" x2="734.9" y2="714.5" stroke="#e23c3c" stroke-width="1.55"/>
<line x1="740.9" y1="631.2" x2="740.9" y2="714.5" stroke="#00dcea" stroke-width="1.55"/>
<line x1="745.4" y1="679.3" x2="745.4" y2="714.5" stroke="#00dcea" stroke-width="1.55"/>
<line x1="751.4" y1="683.7" x2="751.4" y2="714.5" stroke="#00dcea" stroke-width="1.55"/>
<line x1="757.4" y1="670.3" x2="757.4" y2="714.5" stroke="#e23c3c" stroke-width="1.55"/>
<line x1="763.4" y1="640.2" x2="763.4" y2="714.5" stroke="#e23c3c" stroke-width="1.55"/>
<line x1="767.9" y1="671.7" x2="767.9" y2="714.5" stroke="#e23c3c" stroke-width="1.55"/>
<line x1="773.9" y1="677.7" x2="773.9" y2="714.5" stroke="#00dcea" stroke-width="1.55"/>
<line x1="779.9" y1="665.7" x2="779.9" y2="714.5" stroke="#00dcea" stroke-width="1.55"/>
<line x1="784.4" y1="628.2" x2="784.4" y2="714.5" stroke="#00dcea" stroke-width="1.55"/>
<line x1="790.4" y1="680.7" x2="790.4" y2="714.5" stroke="#e23c3c" stroke-width="1.55"/>
<line x1="796.4" y1="683.7" x2="796.4" y2="714.5" stroke="#00dcea" stroke-width="1.55"/>
<line x1="802.4" y1="665.7" x2="802.4" y2="714.5" stroke="#00dcea" stroke-width="1.55"/>
<line x1="806.9" y1="632.8" x2="806.9" y2="714.5" stroke="#00dcea" stroke-width="1.55"/>
<line x1="812.9" y1="667.3" x2="812.9" y2="714.5" stroke="#00dcea" stroke-width="1.55"/>
<line x1="818.9" y1="677.7" x2="818.9" y2="714.5" stroke="#e23c3c" stroke-width="1.55"/>
<line x1="823.4" y1="670.3" x2="823.4" y2="714.5" stroke="#00dcea" stroke-width="1.55"/>
<line x1="829.4" y1="655.4" x2="829.4" y2="714.5" stroke="#00dcea" stroke-width="1.55"/>
<line x1="835.4" y1="686.7" x2="835.4" y2="714.5" stroke="#e23c3c" stroke-width="1.55"/>
<line x1="841.4" y1="688.3" x2="841.4" y2="714.5" stroke="#e23c3c" stroke-width="1.55"/>
<line x1="845.9" y1="674.7" x2="845.9" y2="714.5" stroke="#00dcea" stroke-width="1.55"/>
<line x1="851.9" y1="658.2" x2="851.9" y2="714.5" stroke="#e23c3c" stroke-width="1.55"/>
<line x1="857.9" y1="691.3" x2="857.9" y2="714.5" stroke="#00dcea" stroke-width="1.55"/>
<line x1="862.4" y1="694.3" x2="862.4" y2="714.5" stroke="#e23c3c" stroke-width="1.55"/>
<line x1="868.4" y1="673.3" x2="868.4" y2="714.5" stroke="#00dcea" stroke-width="1.55"/>
<line x1="874.4" y1="655.4" x2="874.4" y2="714.5" stroke="#e23c3c" stroke-width="1.55"/>
<line x1="880.4" y1="686.7" x2="880.4" y2="714.5" stroke="#e23c3c" stroke-width="1.55"/>
<line x1="884.9" y1="686.7" x2="884.9" y2="714.5" stroke="#00dcea" stroke-width="1.55"/>
<line x1="890.9" y1="680.7" x2="890.9" y2="714.5" stroke="#00dcea" stroke-width="1.55"/>
<line x1="896.9" y1="652.2" x2="896.9" y2="714.5" stroke="#e23c3c" stroke-width="1.55"/>
<line x1="901.4" y1="685.3" x2="901.4" y2="714.5" stroke="#00dcea" stroke-width="1.55"/>
<line x1="907.4" y1="691.3" x2="907.4" y2="714.5" stroke="#e23c3c" stroke-width="1.55"/>
<line x1="913.4" y1="680.7" x2="913.4" y2="714.5" stroke="#e23c3c" stroke-width="1.55"/>
<line x1="919.4" y1="656.8" x2="919.4" y2="714.5" stroke="#e23c3c" stroke-width="1.55"/>
<line x1="923.9" y1="685.3" x2="923.9" y2="714.5" stroke="#00dcea" stroke-width="1.55"/>
<line x1="929.9" y1="686.7" x2="929.9" y2="714.5" stroke="#e23c3c" stroke-width="1.55"/>
<line x1="935.9" y1="676.3" x2="935.9" y2="714.5" stroke="#e23c3c" stroke-width="1.55"/>
<line x1="940.4" y1="652.2" x2="940.4" y2="714.5" stroke="#00dcea" stroke-width="1.55"/>
<line x1="946.4" y1="683.7" x2="946.4" y2="714.5" stroke="#e23c3c" stroke-width="1.55"/>
<line x1="952.4" y1="671.7" x2="952.4" y2="714.5" stroke="#e23c3c" stroke-width="1.55"/>
<line x1="958.4" y1="674.7" x2="958.4" y2="714.5" stroke="#e23c3c" stroke-width="1.55"/>
<line x1="962.9" y1="616.2" x2="962.9" y2="714.5" stroke="#e23c3c" stroke-width="1.55"/>
<line x1="968.9" y1="670.3" x2="968.9" y2="714.5" stroke="#00dcea" stroke-width="1.55"/>
<line x1="974.9" y1="683.7" x2="974.9" y2="714.5" stroke="#00dcea" stroke-width="1.55"/>
<line x1="979.4" y1="671.7" x2="979.4" y2="714.5" stroke="#00dcea" stroke-width="1.55"/>
<line x1="985.4" y1="643.2" x2="985.4" y2="714.5" stroke="#00dcea" stroke-width="1.55"/>
<line x1="991.4" y1="685.3" x2="991.4" y2="714.5" stroke="#00dcea" stroke-width="1.55"/>
<line x1="997.4" y1="688.3" x2="997.4" y2="714.5" stroke="#e23c3c" stroke-width="1.55"/>
<line x1="1001.9" y1="674.7" x2="1001.9" y2="714.5" stroke="#00dcea" stroke-width="1.55"/>
<line x1="1007.9" y1="641.8" x2="1007.9" y2="714.5" stroke="#e23c3c" stroke-width="1.55"/>
<line x1="1013.9" y1="685.3" x2="1013.9" y2="714.5" stroke="#00dcea" stroke-width="1.55"/>
<line x1="1018.4" y1="689.7" x2="1018.4" y2="714.5" stroke="#00dcea" stroke-width="1.55"/>
<line x1="1024.4" y1="677.7" x2="1024.4" y2="714.5" stroke="#00dcea" stroke-width="1.55"/>
<line x1="1030.4" y1="662.7" x2="1030.4" y2="714.5" stroke="#00dcea" stroke-width="1.55"/>
<line x1="1036.4" y1="691.3" x2="1036.4" y2="714.5" stroke="#e23c3c" stroke-width="1.55"/>
<line x1="1040.9" y1="691.3" x2="1040.9" y2="714.5" stroke="#00dcea" stroke-width="1.55"/>
<line x1="1046.9" y1="680.7" x2="1046.9" y2="714.5" stroke="#00dcea" stroke-width="1.55"/>
<line x1="1052.9" y1="664.3" x2="1052.9" y2="714.5" stroke="#e23c3c" stroke-width="1.55"/>
<line x1="1057.4" y1="683.7" x2="1057.4" y2="714.5" stroke="#00dcea" stroke-width="1.55"/>
<line x1="1063.4" y1="676.3" x2="1063.4" y2="714.5" stroke="#00dcea" stroke-width="1.55"/>
<line x1="1069.4" y1="673.3" x2="1069.4" y2="714.5" stroke="#00dcea" stroke-width="1.55"/>
<line x1="1075.4" y1="650.8" x2="1075.4" y2="714.5" stroke="#00dcea" stroke-width="1.55"/>
<line x1="1079.9" y1="689.7" x2="1079.9" y2="714.5" stroke="#e23c3c" stroke-width="1.55"/>
<line x1="1085.9" y1="691.3" x2="1085.9" y2="714.5" stroke="#00dcea" stroke-width="1.55"/>
<line x1="1091.9" y1="682.3" x2="1091.9" y2="714.5" stroke="#e23c3c" stroke-width="1.55"/>
<line x1="1096.4" y1="664.3" x2="1096.4" y2="714.5" stroke="#00dcea" stroke-width="1.55"/>
<line x1="1102.4" y1="692.7" x2="1102.4" y2="714.5" stroke="#00dcea" stroke-width="1.55"/>
<line x1="1108.4" y1="694.3" x2="1108.4" y2="714.5" stroke="#00dcea" stroke-width="1.55"/>
<line x1="1114.4" y1="682.3" x2="1114.4" y2="714.5" stroke="#e23c3c" stroke-width="1.55"/>
<line x1="1118.9" y1="665.7" x2="1118.9" y2="714.5" stroke="#00dcea" stroke-width="1.55"/>
<line x1="1124.9" y1="689.7" x2="1124.9" y2="714.5" stroke="#00dcea" stroke-width="1.55"/>
<line x1="1130.9" y1="689.7" x2="1130.9" y2="714.5" stroke="#e23c3c" stroke-width="1.55"/>
<line x1="1135.4" y1="674.7" x2="1135.4" y2="714.5" stroke="#00dcea" stroke-width="1.55"/>
<line x1="1141.4" y1="659.8" x2="1141.4" y2="714.5" stroke="#e23c3c" stroke-width="1.55"/>
<line x1="1147.4" y1="689.7" x2="1147.4" y2="714.5" stroke="#00dcea" stroke-width="1.55"/>
<line x1="1153.4" y1="688.3" x2="1153.4" y2="714.5" stroke="#00dcea" stroke-width="1.55"/>
<line x1="1157.9" y1="680.7" x2="1157.9" y2="714.5" stroke="#e23c3c" stroke-width="1.55"/>
<line x1="1163.9" y1="655.4" x2="1163.9" y2="714.5" stroke="#00dcea" stroke-width="1.55"/>
<line x1="1169.9" y1="682.3" x2="1169.9" y2="714.5" stroke="#e23c3c" stroke-width="1.55"/>
<line x1="1174.4" y1="689.7" x2="1174.4" y2="714.5" stroke="#e23c3c" stroke-width="1.55"/>
<line x1="1180.4" y1="677.7" x2="1180.4" y2="714.5" stroke="#e23c3c" stroke-width="1.55"/>
<line x1="1186.4" y1="632.8" x2="1186.4" y2="714.5" stroke="#e23c3c" stroke-width="1.55"/>
<line x1="1192.4" y1="676.3" x2="1192.4" y2="714.5" stroke="#e23c3c" stroke-width="1.55"/>
<line x1="1196.9" y1="680.7" x2="1196.9" y2="714.5" stroke="#00dcea" stroke-width="1.55"/>
<line x1="1202.9" y1="677.0" x2="1202.9" y2="714.5" stroke="#e23c3c" stroke-width="1.55"/>
<line x1="1208.9" y1="635.8" x2="1208.9" y2="714.5" stroke="#00dcea" stroke-width="1.55"/>
<line x1="1213.4" y1="677.7" x2="1213.4" y2="714.5" stroke="#00dcea" stroke-width="1.55"/>
<line x1="1219.4" y1="682.3" x2="1219.4" y2="714.5" stroke="#00dcea" stroke-width="1.55"/>
<line x1="1225.4" y1="671.7" x2="1225.4" y2="714.5" stroke="#00dcea" stroke-width="1.55"/>
<line x1="1231.4" y1="634.2" x2="1231.4" y2="714.5" stroke="#e23c3c" stroke-width="1.55"/>
<line x1="1235.9" y1="682.3" x2="1235.9" y2="714.5" stroke="#00dcea" stroke-width="1.55"/>
<line x1="1241.9" y1="688.3" x2="1241.9" y2="714.5" stroke="#e23c3c" stroke-width="1.55"/>
<line x1="1247.9" y1="676.3" x2="1247.9" y2="714.5" stroke="#00dcea" stroke-width="1.55"/>
<line x1="1252.4" y1="641.8" x2="1252.4" y2="714.5" stroke="#00dcea" stroke-width="1.55"/>
<line x1="1258.4" y1="682.3" x2="1258.4" y2="714.5" stroke="#00dcea" stroke-width="1.55"/>
<line x1="1264.4" y1="682.3" x2="1264.4" y2="714.5" stroke="#00dcea" stroke-width="1.55"/>
<line x1="1270.4" y1="674.7" x2="1270.4" y2="714.5" stroke="#e23c3c" stroke-width="1.55"/>
<line x1="1274.9" y1="653.8" x2="1274.9" y2="714.5" stroke="#e23c3c" stroke-width="1.55"/>
<line x1="1280.9" y1="680.7" x2="1280.9" y2="714.5" stroke="#e23c3c" stroke-width="1.55"/>
<line x1="1286.9" y1="679.3" x2="1286.9" y2="714.5" stroke="#e23c3c" stroke-width="1.55"/>
<line x1="1291.4" y1="673.3" x2="1291.4" y2="714.5" stroke="#00dcea" stroke-width="1.55"/>
<line x1="1297.4" y1="640.2" x2="1297.4" y2="714.5" stroke="#e23c3c" stroke-width="1.55"/>
<line x1="1303.4" y1="677.7" x2="1303.4" y2="714.5" stroke="#e23c3c" stroke-width="1.55"/>
<line x1="1309.4" y1="680.7" x2="1309.4" y2="714.5" stroke="#00dcea" stroke-width="1.55"/>
<line x1="1313.9" y1="673.3" x2="1313.9" y2="714.5" stroke="#00dcea" stroke-width="1.55"/>
<line x1="1319.9" y1="644.8" x2="1319.9" y2="714.5" stroke="#00dcea" stroke-width="1.55"/>
<line x1="1325.9" y1="670.3" x2="1325.9" y2="714.5" stroke="#e23c3c" stroke-width="1.55"/>
<line x1="1330.4" y1="671.7" x2="1330.4" y2="714.5" stroke="#e23c3c" stroke-width="1.55"/>
<line x1="1336.4" y1="673.3" x2="1336.4" y2="714.5" stroke="#00dcea" stroke-width="1.55"/>
<line x1="1342.4" y1="644.8" x2="1342.4" y2="714.5" stroke="#e23c3c" stroke-width="1.55"/>
<line x1="1348.4" y1="679.3" x2="1348.4" y2="714.5" stroke="#00dcea" stroke-width="1.55"/>
<line x1="1352.9" y1="683.7" x2="1352.9" y2="714.5" stroke="#00dcea" stroke-width="1.55"/>
<line x1="1358.9" y1="670.3" x2="1358.9" y2="714.5" stroke="#00dcea" stroke-width="1.55"/>
<line x1="1364.9" y1="655.4" x2="1364.9" y2="714.5" stroke="#e23c3c" stroke-width="1.55"/>
<line x1="1369.4" y1="682.3" x2="1369.4" y2="714.5" stroke="#00dcea" stroke-width="1.55"/>
<line x1="1375.4" y1="689.7" x2="1375.4" y2="714.5" stroke="#e23c3c" stroke-width="1.55"/>
<line x1="1381.4" y1="676.3" x2="1381.4" y2="714.5" stroke="#e23c3c" stroke-width="1.55"/>
<line x1="1387.4" y1="649.2" x2="1387.4" y2="714.5" stroke="#00dcea" stroke-width="1.55"/>
<line x1="1391.9" y1="682.3" x2="1391.9" y2="714.5" stroke="#e23c3c" stroke-width="1.55"/>
<line x1="1397.9" y1="685.3" x2="1397.9" y2="714.5" stroke="#00dcea" stroke-width="1.55"/>
<line x1="1403.9" y1="674.7" x2="1403.9" y2="714.5" stroke="#00dcea" stroke-width="1.55"/>
<line x1="1408.4" y1="649.2" x2="1408.4" y2="714.5" stroke="#00dcea" stroke-width="1.55"/>
<line x1="1414.4" y1="686.7" x2="1414.4" y2="714.5" stroke="#00dcea" stroke-width="1.55"/>
<line x1="1420.4" y1="688.3" x2="1420.4" y2="714.5" stroke="#00dcea" stroke-width="1.55"/>
<line x1="1426.4" y1="674.7" x2="1426.4" y2="714.5" stroke="#00dcea" stroke-width="1.55"/>
<line x1="1430.9" y1="662.7" x2="1430.9" y2="714.5" stroke="#00dcea" stroke-width="1.55"/>
<line x1="1436.9" y1="686.7" x2="1436.9" y2="714.5" stroke="#00dcea" stroke-width="1.55"/>
<line x1="1442.9" y1="688.3" x2="1442.9" y2="714.5" stroke="#e23c3c" stroke-width="1.55"/>
<line x1="1447.4" y1="683.7" x2="1447.4" y2="714.5" stroke="#e23c3c" stroke-width="1.55"/>
<polyline points="4.4,651.8 10.0,657.8 15.6,657.4 26.7,649.4 32.3,665.7 43.3,669.3 49.0,663.7 54.5,672.7 65.7,671.7 71.3,666.7 79.8,674.1 93.6,669.3 104.6,678.7 115.8,670.1 121.4,676.7 132.5,674.7 138.1,667.7 149.3,674.7 160.3,665.3 165.9,673.7 171.5,676.7 182.6,666.7 193.8,673.3 205.0,661.3 216.0,662.1 227.1,649.4 232.7,657.8 238.3,662.1 249.5,658.2 255.1,668.7 260.7,671.7 271.9,665.7 277.2,672.7 288.4,672.7 294.0,667.7 300.0,672.7 305.0,671.7 316.4,659.8 322.0,666.7 330.0,668.7 338.7,661.7 346.0,667.7 354.0,661.7 361.0,652.2 366.5,659.8 374.0,665.7 383.0,660.7 394.0,669.3 405.6,660.7 414.0,666.7 422.0,660.7 427.7,653.8 435.7,661.7 444.5,657.8 450.0,652.2 457.7,660.1 465.7,659.8 472.5,650.2 479.6,656.8 488.6,655.8 494.6,637.4 500.0,641.8 507.6,641.8 517.0,626.8 522.6,644.8 530.5,651.8 539.3,639.8 545.5,650.8 552.5,650.8 561.5,635.8 568.5,645.8 575.4,648.8 583.8,639.8 589.4,651.8 595.4,654.8 600.0,651.8 607.0,646.8 612.0,657.8 618.0,661.7 628.5,651.8 635.0,660.7 650.7,650.8 657.0,661.7 664.0,658.8 673.0,652.8 680.0,661.7 688.0,663.7 696.0,659.8 706.0,669.7 717.8,661.7 725.7,668.7 740.0,655.8 749.7,665.7 762.7,661.7 769.7,667.7 777.6,665.7 784.4,656.8 796.6,667.7 806.8,658.8 815.6,664.7 829.0,659.8 834.5,669.7 843.5,675.3 851.3,672.7 861.5,681.7 873.7,673.7 881.4,679.7 889.4,676.7 896.4,671.7 900.0,675.7 910.0,678.1 918.2,673.3 930.0,679.7 940.5,671.7 948.0,674.7 958.0,669.7 962.7,658.2 970.0,661.7 980.0,661.7 985.0,655.8 991.8,669.7 997.8,673.7 1007.4,666.7 1015.8,674.7 1029.5,671.7 1039.7,681.3 1051.9,676.7 1057.7,680.7 1068.7,675.7 1074.2,669.7 1085.6,677.7 1096.4,675.7 1106.6,684.7 1118.8,678.7 1127.5,683.3 1141.1,676.7 1153.5,680.7 1163.3,674.7 1174.5,679.7 1185.6,665.7 1193.4,669.7 1200.0,667.7 1204.0,665.7 1208.0,660.7 1216.0,669.3 1224.8,667.3 1230.3,660.1 1239.0,670.1 1247.0,669.7 1252.5,664.7 1260.0,672.7 1269.3,671.7 1274.8,666.7 1281.8,673.7 1289.8,673.7 1297.0,665.7 1305.8,669.7 1312.8,669.3 1319.4,662.1 1327.8,667.7 1334.7,667.7 1341.7,660.7 1351.7,668.7 1359.7,669.3 1364.0,666.7 1369.7,673.7 1377.7,675.7 1386.2,670.7 1393.6,675.7 1400.6,675.3 1408.6,667.7 1415.6,673.7 1421.6,675.7 1431.0,671.3 1436.5,678.1 1446.0,678.7" fill="none" stroke="#ffffff" stroke-width="1.2" stroke-linejoin="round"/>
<polyline points="4.4,657.8 15.6,661.7 26.7,656.8 37.9,663.3 49.0,658.8 60.0,668.7 71.3,666.7 82.4,673.3 93.6,669.3 104.6,674.7 115.8,670.7 127.0,675.3 138.1,670.7 149.3,675.3 160.3,669.3 171.5,674.7 182.6,668.7 193.8,673.7 205.0,665.7 216.0,666.7 227.1,657.4 238.3,662.1 249.5,656.8 260.7,663.3 271.9,663.3 282.8,671.7 294.0,666.7 300.0,667.7 308.0,671.7 316.4,663.7 330.0,670.7 340.0,663.7 352.0,665.7 362.0,659.4 374.0,665.7 384.0,661.3 396.0,665.7 406.8,660.7 417.8,665.7 429.7,658.8 439.7,661.7 451.7,655.4 463.7,661.3 473.7,654.8 486.6,658.8 496.6,647.8 507.6,648.8 519.6,640.8 530.5,646.8 541.5,638.2 552.5,648.8 563.5,641.8 574.5,648.8 585.4,643.8 595.4,649.8 600.0,649.8 607.0,645.4 618.0,656.8 628.5,650.8 640.0,657.8 650.7,653.8 661.9,658.2 673.0,651.8 685.8,661.7 695.8,657.4 708.8,666.7 717.8,661.3 728.7,666.7 740.0,659.8 751.7,665.7 763.7,660.7 773.7,665.7 784.4,657.8 796.6,666.7 806.8,660.7 819.6,664.7 829.0,661.7 841.5,668.7 851.3,666.7 863.5,675.7 873.7,673.7 885.4,678.7 900.0,675.0 909.0,677.7 918.2,674.1 930.0,678.7 940.5,672.7 958.0,675.7 962.7,666.7 975.8,669.3 985.8,663.7 997.8,667.7 1008.8,663.3 1019.8,672.7 1029.7,671.7 1043.7,678.7 1053.7,675.7 1063.7,678.7 1074.2,673.7 1087.6,678.1 1096.4,675.7 1109.6,678.7 1118.8,677.7 1129.5,682.7 1141.1,677.7 1153.5,680.7 1163.3,676.7 1174.5,679.3 1185.6,672.7 1193.4,673.7 1200.0,672.0 1204.0,669.7 1210.0,666.7 1220.0,669.3 1230.3,663.7 1242.0,669.7 1252.5,665.3 1263.9,671.7 1274.8,667.3 1287.8,672.7 1297.0,666.7 1309.8,671.3 1319.4,665.7 1331.7,668.1 1341.7,663.7 1353.7,669.3 1365.7,666.7 1377.7,672.7 1386.2,669.7 1395.6,675.3 1408.6,670.7 1419.6,675.7 1431.0,671.7 1446.0,677.3" fill="none" stroke="#ffff00" stroke-width="1.5" stroke-linejoin="round"/>
<polyline points="3.7,863.1 10.1,863.1 20.3,857.0 30.4,849.9 40.6,843.8 47.7,836.7 54.8,823.6 62.9,809.3 71.0,800.2 77.1,799.8 83.2,807.3 89.3,813.4 97.4,816.4 105.5,812.4 113.6,805.9 121.7,804.3 131.9,806.7 142.0,804.3 151.2,802.7 160.3,808.7 170.4,813.4 178.5,811.4 186.7,802.2 194.8,794.1 204.9,787.0 215.1,780.9 225.2,775.9 235.4,774.9 243.5,776.9 251.6,779.9 259.7,784.0 267.8,793.1 273.9,800.2 280.0,810.4 284.1,813.4 290.1,813.4 296.2,809.3 300.0,806.3 306.0,804.3 312.2,802.2 320.3,808.3 328.4,815.4 335.5,821.5 342.6,815.4 350.7,808.3 358.8,803.9 367.0,803.9 377.1,804.3 385.2,812.4 391.3,817.5 399.4,820.9 406.5,819.5 412.6,819.5 419.7,822.5 424.8,824.6 429.9,818.5 438.0,808.3 446.1,799.2 456.2,792.1 466.4,787.0 474.5,783.6 480.6,785.0 485.6,788.0 492.8,785.0 502.9,782.4 511.0,784.0 521.2,787.6 531.3,791.1 541.4,792.5 549.6,793.7 556.1,791.7 563.8,793.1 571.9,793.1 580.0,791.1 588.1,797.2 594.2,804.3 600.0,812.0 606.1,820.5 612.2,827.0 618.3,826.2 624.3,820.5 630.4,812.4 638.6,805.9 646.7,802.7 652.8,810.4 660.9,825.6 667.0,835.7 675.1,841.2 683.2,843.8 693.3,843.8 701.5,841.8 707.5,835.7 715.7,822.5 723.8,810.4 731.9,800.2 735.9,797.2 742.0,808.3 750.1,821.5 756.2,827.6 762.3,830.2 768.4,825.6 774.5,822.1 779.6,820.9 784.6,824.6 792.8,831.7 800.9,840.8 809.0,849.9 817.1,856.0 825.2,860.1 833.3,860.7 841.4,858.0 851.6,855.4 859.7,855.0 868.2,854.6 875.9,849.9 884.1,841.2 892.2,838.4 900.0,836.7 908.1,830.7 916.2,818.5 924.3,806.3 932.5,796.2 940.6,788.0 948.7,783.0 958.8,779.9 969.0,777.5 977.1,779.9 985.2,783.0 993.3,789.1 1001.5,799.2 1009.6,811.4 1017.7,828.6 1025.8,840.8 1033.9,847.9 1042.0,852.0 1052.6,853.4 1062.3,855.0 1072.5,856.6 1082.6,855.4 1092.8,852.0 1102.9,849.3 1110.0,845.9 1115.1,834.7 1120.1,824.6 1127.2,817.5 1133.3,812.8 1141.4,812.4 1146.5,817.5 1153.6,824.6 1159.7,828.2 1163.8,831.1 1169.9,831.7 1175.9,822.5 1184.1,810.4 1192.2,800.2 1200.0,793.1 1204.0,787.6 1212.1,785.0 1220.2,790.1 1228.3,801.2 1236.5,815.4 1244.6,826.6 1252.7,838.8 1260.8,846.9 1268.9,853.0 1274.0,853.0 1281.1,840.8 1287.2,828.6 1293.3,815.4 1301.4,803.3 1309.5,795.1 1315.6,790.1 1325.7,785.6 1333.9,783.6 1339.9,785.0 1348.1,792.1 1356.2,804.3 1365.3,814.4 1372.4,826.6 1380.5,834.3 1386.6,834.7 1392.7,831.1 1397.8,830.2 1403.9,834.7 1411.0,842.8 1419.1,849.9 1427.2,857.0 1436.3,860.1 1442.4,860.7 1446.5,860.1" fill="none" stroke="#ffff00" stroke-width="1.3" stroke-linejoin="round"/>
<polyline points="3.7,867.2 9.1,862.1 15.2,854.0 20.3,849.9 28.4,842.8 33.5,840.8 38.6,835.7 43.6,835.7 48.7,818.5 54.8,800.2 60.9,793.1 65.9,790.1 71.0,787.6 76.1,798.2 82.2,815.4 88.3,830.2 94.3,823.6 101.5,814.4 111.2,795.1 116.7,797.2 121.7,805.3 127.8,809.3 133.9,809.3 140.0,804.3 145.1,801.8 151.2,802.2 156.2,810.4 161.3,818.5 166.4,819.5 173.5,816.4 178.5,804.3 183.6,794.1 189.7,786.0 194.8,780.3 199.9,783.0 204.9,780.9 213.0,775.5 222.2,771.4 228.3,773.8 235.4,775.9 243.5,779.9 250.6,785.0 257.7,787.6 262.8,795.1 267.8,802.2 272.9,809.3 278.0,824.2 283.0,826.6 288.1,818.5 294.2,806.3 300.0,798.7 306.0,801.2 312.2,796.2 316.2,812.4 324.3,822.5 334.1,834.7 339.6,810.4 345.6,800.2 353.8,796.6 360.9,799.8 368.0,804.3 377.1,805.3 383.2,820.5 389.3,828.2 397.4,827.6 406.5,816.0 411.6,816.4 416.7,825.6 422.8,832.7 427.8,816.4 433.9,798.2 445.1,786.4 451.2,787.6 456.2,785.0 462.3,785.0 467.4,779.9 472.5,777.5 478.5,785.0 484.2,796.2 490.7,784.0 495.2,780.3 504.9,780.9 511.0,787.6 520.1,791.7 529.3,794.5 534.3,793.1 540.4,793.7 546.5,797.2 551.6,792.1 556.1,786.0 561.7,793.1 568.8,796.2 573.9,792.1 579.0,789.1 584.1,801.2 589.1,803.3 594.2,816.4 600.0,830.7 607.1,840.8 613.2,834.7 619.3,820.5 624.3,806.3 630.4,799.2 638.6,796.8 646.7,797.8 650.7,816.4 658.8,838.8 667.0,853.0 675.1,849.9 683.2,846.5 693.3,844.9 701.5,837.8 707.5,822.5 713.6,804.3 719.7,795.1 727.8,789.1 734.9,788.0 740.0,808.3 746.1,832.7 752.2,843.8 758.3,841.8 763.3,830.7 767.4,818.5 773.5,816.0 779.6,816.4 784.6,832.7 790.7,836.7 797.8,848.9 805.9,860.1 813.0,864.1 818.1,863.1 823.2,865.8 830.3,863.1 836.4,859.5 843.5,853.0 851.6,852.6 857.7,857.0 862.1,848.9 868.2,856.0 873.9,846.9 881.0,831.1 886.1,831.7 891.2,836.7 896.2,832.7 900.0,830.2 908.1,822.5 916.2,804.3 924.3,790.1 931.4,782.0 938.6,778.9 945.7,775.5 952.8,776.9 958.8,776.3 964.9,774.2 970.0,776.3 977.1,782.4 985.2,791.1 993.3,800.2 1001.5,814.4 1009.6,830.7 1017.7,849.9 1025.8,856.0 1031.9,858.7 1042.0,858.7 1048.1,855.0 1052.6,852.6 1057.2,858.0 1064.3,858.7 1070.4,860.1 1075.5,856.0 1080.2,853.0 1085.6,854.0 1092.8,847.9 1102.9,843.8 1109.0,838.8 1113.0,820.5 1118.1,807.3 1124.2,806.3 1130.3,804.3 1136.4,807.3 1141.4,809.3 1145.5,824.6 1151.6,834.7 1157.7,832.7 1163.8,841.8 1168.8,830.7 1173.9,812.4 1180.0,800.2 1186.1,791.1 1192.2,785.0 1200.0,778.9 1204.0,777.9 1212.1,783.0 1218.2,794.1 1224.3,810.4 1231.4,822.5 1237.5,836.7 1244.6,845.9 1251.7,855.0 1257.8,855.4 1264.9,861.5 1272.0,858.0 1276.0,844.9 1281.1,824.6 1286.2,806.3 1291.2,795.1 1297.3,789.7 1303.4,784.0 1311.5,780.9 1320.1,781.6 1325.7,777.9 1331.8,782.0 1337.9,787.6 1344.0,794.1 1350.1,808.3 1356.2,819.5 1360.2,824.2 1365.3,824.6 1369.4,836.7 1375.5,846.5 1381.5,844.9 1386.6,836.7 1391.7,824.6 1396.8,827.6 1401.8,838.8 1406.9,848.9 1413.0,855.4 1419.1,859.1 1427.2,863.5 1436.3,866.2 1442.4,861.1 1446.5,857.0" fill="none" stroke="#ffffff" stroke-width="1.2" stroke-linejoin="round"/>
<polyline points="3.7,876.3 10.1,861.1 15.2,842.8 20.3,836.7 28.4,828.6 33.5,825.6 38.6,818.5 42.6,825.6 47.7,786.0 54.4,757.2 60.9,756.6 64.9,760.7 71.0,763.3 77.1,800.2 83.2,836.7 88.3,861.5 94.3,832.7 101.5,810.4 111.2,772.2 116.7,782.0 121.7,804.3 127.8,816.4 132.9,813.4 139.0,800.2 144.5,793.7 150.1,796.2 156.2,816.4 161.3,832.7 166.4,832.7 172.5,820.5 178.5,796.2 183.6,773.8 189.7,761.7 195.2,755.2 199.9,769.4 204.9,767.3 212.0,761.3 221.2,759.6 228.3,770.8 235.4,775.9 243.5,784.0 250.6,793.1 256.7,794.1 261.7,804.3 266.8,820.5 272.9,830.6 278.0,861.1 283.0,857.0 288.1,828.6 293.2,808.3 300.0,784.0 305.0,792.1 311.2,781.0 315.2,824.6 322.3,840.8 328.4,853.0 334.1,857.0 338.6,798.2 344.6,777.9 350.7,779.9 355.8,783.0 361.9,800.2 367.0,805.3 377.1,805.3 383.2,840.8 389.3,854.0 394.3,839.8 399.4,838.4 406.5,809.3 411.6,810.4 415.7,830.7 422.8,843.2 427.8,804.3 432.9,769.8 440.0,762.7 445.1,760.7 451.2,771.4 456.2,771.8 462.3,774.9 467.4,763.7 472.5,766.7 478.5,790.1 484.2,809.3 490.7,782.0 495.2,769.8 504.9,776.9 511.0,794.1 520.1,800.2 529.3,804.7 534.3,795.1 540.4,795.8 546.5,803.9 551.6,790.1 556.1,775.5 561.7,794.1 568.8,798.6 573.9,789.1 579.0,784.0 584.1,810.4 588.1,815.4 593.2,836.7 600.0,865.1 607.1,875.3 612.2,855.0 618.3,822.5 623.3,786.0 628.4,776.3 635.5,775.9 641.6,779.5 646.7,788.0 649.7,828.6 655.8,869.2 663.9,887.1 670.0,875.3 677.1,860.1 683.2,848.9 689.3,847.9 695.4,842.8 701.5,832.7 707.5,800.2 712.6,767.8 718.7,756.6 723.8,755.2 728.8,764.7 734.9,767.8 740.0,824.6 745.1,869.2 751.2,884.4 757.2,869.2 762.3,844.9 767.4,802.2 773.5,801.8 779.6,809.3 784.2,847.9 790.7,857.0 797.8,873.3 807.0,887.1 812.0,887.1 818.1,876.3 823.2,878.3 829.3,869.2 835.4,860.1 841.4,847.9 846.5,844.9 852.6,847.9 857.7,861.5 862.1,838.8 868.2,861.5 873.9,836.7 880.4,802.2 886.1,816.4 891.2,831.7 896.2,819.5 900.0,821.5 906.1,810.4 912.2,788.0 918.3,765.7 924.3,762.7 930.4,754.6 936.5,753.5 940.6,759.2 947.7,759.6 952.8,767.3 958.8,771.8 962.9,766.7 970.0,775.9 977.1,786.0 983.2,804.3 989.3,813.4 998.4,830.7 1005.5,855.0 1011.6,875.3 1018.7,889.9 1025.8,887.5 1033.9,879.3 1042.0,869.2 1048.1,859.1 1052.6,846.9 1057.2,864.1 1064.3,862.1 1070.4,865.5 1075.5,855.0 1080.2,844.9 1085.6,852.6 1091.7,841.8 1097.8,838.4 1102.9,836.7 1108.0,827.6 1113.0,784.0 1119.1,767.3 1124.2,777.9 1130.3,783.0 1135.4,798.2 1141.4,805.3 1144.5,836.7 1148.5,853.0 1153.6,861.5 1157.7,843.2 1163.8,861.5 1168.8,832.7 1173.9,792.1 1180.0,771.8 1186.1,761.7 1192.2,753.5 1200.0,752.5 1204.0,754.6 1210.1,769.8 1216.2,790.1 1222.3,816.4 1226.3,840.8 1231.4,853.0 1235.4,871.2 1241.5,881.4 1251.7,885.4 1257.8,878.3 1263.9,882.4 1269.9,871.2 1274.0,853.0 1278.1,820.5 1282.1,779.9 1287.2,753.5 1291.7,746.4 1297.3,749.9 1303.4,749.1 1309.5,757.6 1315.6,765.7 1320.1,773.4 1325.7,765.7 1331.8,777.9 1337.9,794.1 1344.0,806.3 1349.1,824.6 1355.2,846.9 1359.2,858.0 1364.7,845.9 1369.4,875.3 1375.5,879.3 1381.5,865.1 1386.6,840.8 1391.7,808.3 1396.8,824.6 1401.8,848.9 1406.9,865.1 1413.0,875.3 1419.1,880.4 1425.2,881.0 1431.2,878.3 1437.3,873.3 1442.4,863.1 1447.5,850.5" fill="none" stroke="#ff00ff" stroke-width="1.3" stroke-linejoin="round"/>
<line x1="2.3" y1="540.4" x2="1504" y2="540.4" stroke="#900000" stroke-width="1.6"/>
<line x1="2.3" y1="716" x2="1468.5" y2="716" stroke="#900000" stroke-width="1.5"/>
<line x1="1468.5" y1="716.6" x2="1504" y2="716.6" stroke="#900000" stroke-width="2.4"/>
<line x1="2.3" y1="893.2" x2="1468.5" y2="893.2" stroke="#900000" stroke-width="1.8"/>
<line x1="1468.5" y1="892.4" x2="1504" y2="892.4" stroke="#900000" stroke-width="3"/>
<line x1="1468.5" y1="693.7" x2="1504" y2="693.7" stroke="#900000" stroke-width="1.4"/>
<line x1="1468.5" y1="12" x2="1468.5" y2="716" stroke="#900000" stroke-width="1.6"/>
<line x1="1469.0" y1="716" x2="1469.0" y2="897" stroke="#900000" stroke-width="3"/>
<line x1="1468.5" y1="108.5" x2="1476.5" y2="108.5" stroke="#900000" stroke-width="1.4"/>
<line x1="1468.5" y1="146.4" x2="1472.0" y2="146.4" stroke="#900000" stroke-width="1.4"/>
<line x1="1468.5" y1="184.3" x2="1476.5" y2="184.3" stroke="#900000" stroke-width="1.4"/>
<line x1="1468.5" y1="222.2" x2="1472.0" y2="222.2" stroke="#900000" stroke-width="1.4"/>
<line x1="1468.5" y1="260.1" x2="1476.5" y2="260.1" stroke="#900000" stroke-width="1.4"/>
<line x1="1468.5" y1="298.0" x2="1472.0" y2="298.0" stroke="#900000" stroke-width="1.4"/>
<line x1="1468.5" y1="335.9" x2="1476.5" y2="335.9" stroke="#900000" stroke-width="1.4"/>
<line x1="1468.5" y1="373.8" x2="1472.0" y2="373.8" stroke="#900000" stroke-width="1.4"/>
<line x1="1468.5" y1="411.7" x2="1476.5" y2="411.7" stroke="#900000" stroke-width="1.4"/>
<line x1="1468.5" y1="449.6" x2="1472.0" y2="449.6" stroke="#900000" stroke-width="1.4"/>
<line x1="1468.5" y1="487.5" x2="1476.5" y2="487.5" stroke="#900000" stroke-width="1.4"/>
<line x1="1468.5" y1="525.4" x2="1472.0" y2="525.4" stroke="#900000" stroke-width="1.4"/>
<line x1="1468.5" y1="569" x2="1476.5" y2="569" stroke="#900000" stroke-width="1.4"/>
<line x1="1468.5" y1="616.8" x2="1476.5" y2="616.8" stroke="#900000" stroke-width="1.4"/>
<line x1="1468.5" y1="640.8" x2="1472.0" y2="640.8" stroke="#900000" stroke-width="1.4"/>
<line x1="1468.5" y1="664.7" x2="1476.5" y2="664.7" stroke="#900000" stroke-width="1.4"/>
<line x1="103.5" y1="893.3" x2="103.5" y2="897" stroke="#900000" stroke-width="1.5"/>
<line x1="128.6" y1="893.3" x2="128.6" y2="897" stroke="#900000" stroke-width="1.5"/>
<line x1="153.6" y1="893.3" x2="153.6" y2="897" stroke="#900000" stroke-width="1.5"/>
<line x1="178.7" y1="893.3" x2="178.7" y2="897" stroke="#900000" stroke-width="1.5"/>
<line x1="203.8" y1="893.3" x2="203.8" y2="897" stroke="#900000" stroke-width="1.5"/>
<line x1="228.8" y1="893.3" x2="228.8" y2="897" stroke="#900000" stroke-width="1.5"/>
<line x1="253.9" y1="893.3" x2="253.9" y2="897" stroke="#900000" stroke-width="1.5"/>
<line x1="279.0" y1="893.3" x2="279.0" y2="897" stroke="#900000" stroke-width="1.5"/>
<line x1="304.1" y1="893.3" x2="304.1" y2="897" stroke="#900000" stroke-width="1.5"/>
<line x1="329.1" y1="893.3" x2="329.1" y2="897" stroke="#900000" stroke-width="1.5"/>
<line x1="354.2" y1="893.3" x2="354.2" y2="897" stroke="#900000" stroke-width="1.5"/>
<line x1="379.3" y1="893.3" x2="379.3" y2="897" stroke="#900000" stroke-width="1.5"/>
<line x1="404.3" y1="893.3" x2="404.3" y2="897" stroke="#900000" stroke-width="1.5"/>
<line x1="429.4" y1="893.3" x2="429.4" y2="897" stroke="#900000" stroke-width="1.5"/>
<line x1="454.5" y1="893.3" x2="454.5" y2="897" stroke="#900000" stroke-width="1.5"/>
<line x1="479.5" y1="893.3" x2="479.5" y2="897" stroke="#900000" stroke-width="1.5"/>
<line x1="504.6" y1="893.3" x2="504.6" y2="897" stroke="#900000" stroke-width="1.5"/>
<line x1="529.7" y1="893.3" x2="529.7" y2="897" stroke="#900000" stroke-width="1.5"/>
<line x1="554.8" y1="893.3" x2="554.8" y2="897" stroke="#900000" stroke-width="1.5"/>
<line x1="579.8" y1="893.3" x2="579.8" y2="897" stroke="#900000" stroke-width="1.5"/>
<line x1="604.9" y1="893.3" x2="604.9" y2="897" stroke="#900000" stroke-width="1.5"/>
<line x1="630.0" y1="893.3" x2="630.0" y2="897" stroke="#900000" stroke-width="1.5"/>
<line x1="655.0" y1="893.3" x2="655.0" y2="897" stroke="#900000" stroke-width="1.5"/>
<line x1="680.1" y1="893.3" x2="680.1" y2="897" stroke="#900000" stroke-width="1.5"/>
<line x1="705.2" y1="893.3" x2="705.2" y2="897" stroke="#900000" stroke-width="1.5"/>
<line x1="730.3" y1="893.3" x2="730.3" y2="897" stroke="#900000" stroke-width="1.5"/>
<line x1="755.3" y1="893.3" x2="755.3" y2="897" stroke="#900000" stroke-width="1.5"/>
<line x1="780.4" y1="893.3" x2="780.4" y2="897" stroke="#900000" stroke-width="1.5"/>
<line x1="805.5" y1="893.3" x2="805.5" y2="897" stroke="#900000" stroke-width="1.5"/>
<line x1="830.5" y1="893.3" x2="830.5" y2="897" stroke="#900000" stroke-width="1.5"/>
<line x1="855.6" y1="893.3" x2="855.6" y2="897" stroke="#900000" stroke-width="1.5"/>
<line x1="880.7" y1="893.3" x2="880.7" y2="897" stroke="#900000" stroke-width="1.5"/>
<line x1="905.7" y1="893.3" x2="905.7" y2="897" stroke="#900000" stroke-width="1.5"/>
<line x1="930.8" y1="893.3" x2="930.8" y2="897" stroke="#900000" stroke-width="1.5"/>
<line x1="955.9" y1="893.3" x2="955.9" y2="897" stroke="#900000" stroke-width="1.5"/>
<line x1="981.0" y1="893.3" x2="981.0" y2="897" stroke="#900000" stroke-width="1.5"/>
<line x1="1006.0" y1="893.3" x2="1006.0" y2="897" stroke="#900000" stroke-width="1.5"/>
<line x1="1031.1" y1="893.3" x2="1031.1" y2="897" stroke="#900000" stroke-width="1.5"/>
<line x1="1056.2" y1="893.3" x2="1056.2" y2="897" stroke="#900000" stroke-width="1.5"/>
<line x1="1081.2" y1="893.3" x2="1081.2" y2="897" stroke="#900000" stroke-width="1.5"/>
<line x1="1106.3" y1="893.3" x2="1106.3" y2="897" stroke="#900000" stroke-width="1.5"/>
<line x1="1131.4" y1="893.3" x2="1131.4" y2="897" stroke="#900000" stroke-width="1.5"/>
<line x1="1156.4" y1="893.3" x2="1156.4" y2="897" stroke="#900000" stroke-width="1.5"/>
<line x1="1181.5" y1="893.3" x2="1181.5" y2="897" stroke="#900000" stroke-width="1.5"/>
<line x1="1206.6" y1="893.3" x2="1206.6" y2="897" stroke="#900000" stroke-width="1.5"/>
<line x1="1231.7" y1="893.3" x2="1231.7" y2="897" stroke="#900000" stroke-width="1.5"/>
<line x1="1256.7" y1="893.3" x2="1256.7" y2="897" stroke="#900000" stroke-width="1.5"/>
<line x1="1281.8" y1="893.3" x2="1281.8" y2="897" stroke="#900000" stroke-width="1.5"/>
<line x1="1306.9" y1="893.3" x2="1306.9" y2="897" stroke="#900000" stroke-width="1.5"/>
<line x1="1331.9" y1="893.3" x2="1331.9" y2="897" stroke="#900000" stroke-width="1.5"/>
<line x1="1357.0" y1="893.3" x2="1357.0" y2="897" stroke="#900000" stroke-width="1.5"/>
<line x1="1382.1" y1="893.3" x2="1382.1" y2="897" stroke="#900000" stroke-width="1.5"/>
<line x1="1407.1" y1="893.3" x2="1407.1" y2="897" stroke="#900000" stroke-width="1.5"/>
<text x="1499.30" y="114.9" font-family="Liberation Sans, sans-serif" font-size="18" fill="#c40000" stroke="#000" stroke-width="0.22">3000</text>
<text x="1499.30" y="152.8" font-family="Liberation Sans, sans-serif" font-size="18" fill="#c40000" stroke="#000" stroke-width="0.22">2980</text>
<text x="1499.30" y="190.7" font-family="Liberation Sans, sans-serif" font-size="18" fill="#c40000" stroke="#000" stroke-width="0.22">2960</text>
<text x="1499.30" y="228.6" font-family="Liberation Sans, sans-serif" font-size="18" fill="#c40000" stroke="#000" stroke-width="0.22">2940</text>
<text x="1499.30" y="266.5" font-family="Liberation Sans, sans-serif" font-size="18" fill="#c40000" stroke="#000" stroke-width="0.22">2920</text>
<text x="1499.30" y="304.4" font-family="Liberation Sans, sans-serif" font-size="18" fill="#c40000" stroke="#000" stroke-width="0.22">2900</text>
<text x="1499.30" y="342.3" font-family="Liberation Sans, sans-serif" font-size="18" fill="#c40000" stroke="#000" stroke-width="0.22">2880</text>
<text x="1499.30" y="380.2" font-family="Liberation Sans, sans-serif" font-size="18" fill="#c40000" stroke="#000" stroke-width="0.22">2860</text>
<text x="1499.30" y="418.1" font-family="Liberation Sans, sans-serif" font-size="18" fill="#c40000" stroke="#000" stroke-width="0.22">2840</text>
<text x="1499.30" y="456.0" font-family="Liberation Sans, sans-serif" font-size="18" fill="#c40000" stroke="#000" stroke-width="0.22">2820</text>
<text x="1499.30" y="493.9" font-family="Liberation Sans, sans-serif" font-size="18" fill="#c40000" stroke="#000" stroke-width="0.22">2800</text>
<text x="1499.30" y="531.8" font-family="Liberation Sans, sans-serif" font-size="18" fill="#c40000" stroke="#000" stroke-width="0.22">2780</text>
<text x="1488.40" y="575.3" font-family="Liberation Sans, sans-serif" font-size="18" fill="#c40000" stroke="#000" stroke-width="0.22">150</text>
<rect x="1469.0" y="570.8" width="40" height="23.2" fill="#0000ff" stroke="#7a0000" stroke-width="1"/>
<text x="1469.40" y="588.6" font-family="Liberation Sans, sans-serif" font-size="18" fill="#e8e8f0" textLength="42.50" lengthAdjust="spacingAndGlyphs" stroke="#000" stroke-width="0.22">1228</text>
<text x="1488.40" y="623.6" font-family="Liberation Sans, sans-serif" font-size="18" fill="#c40000" stroke="#000" stroke-width="0.22">100</text>
<text x="1499.40" y="671.6" font-family="Liberation Sans, sans-serif" font-size="18" fill="#c40000" stroke="#000" stroke-width="0.22">50</text>
<text x="1471.20" y="710.6" font-family="Liberation Sans, sans-serif" font-size="18" fill="#c40000" textLength="32.00" lengthAdjust="spacingAndGlyphs" stroke="#000" stroke-width="0.22">X10</text>
<text x="1483.90" y="773.8" font-family="Liberation Sans, sans-serif" font-size="18" fill="#c40000" stroke="#000" stroke-width="0.22">100</text>
<text x="1495.00" y="794.3" font-family="Liberation Sans, sans-serif" font-size="18" fill="#c40000" stroke="#000" stroke-width="0.22">80</text>
<text x="1495.00" y="825.9" font-family="Liberation Sans, sans-serif" font-size="18" fill="#c40000" stroke="#000" stroke-width="0.22">50</text>
<text x="1495.00" y="858" font-family="Liberation Sans, sans-serif" font-size="18" fill="#c40000" stroke="#000" stroke-width="0.22">20</text>
<path d="M1435.2,19.3 L1442.8,27 L1435.2,34.7 L1427.6,27 Z" fill="none" stroke="#8c0000" stroke-width="1.3"/>
<rect x="1450" y="19.6" width="13.6" height="15" fill="none" stroke="#8c0000" stroke-width="1.3"/>
<line x1="1459" y1="19.6" x2="1459" y2="34.6" stroke="#8c0000" stroke-width="1.3"/>
<rect x="1289.2" y="894" width="97.4" height="3" fill="#0000ff"/>
<path d="M1296,896.5 h3 m3,0 h4 m4,0 h3 m5,0 h4 m10,0 h3 m6,0 h4 m5,0 h4 m8,0 h3" stroke="#9090ff" stroke-width="1" fill="none"/>
<path d="M1478,896.5 h4 m3,0 h4 m6,0 h5" stroke="#808080" stroke-width="1" fill="none"/>
<path transform="translate(3.2,17.8) scale(1.05,1.1)" d="M8,1 L8,14.5 M8,7 L14,7 M1,14.5 L15.5,14.5" fill="none" stroke="#e6e6e6" stroke-width="1.15" stroke-linecap="square"/>
<path transform="translate(21.6,17.8) scale(1.05,1.1)" d="M2,1.5 L3.5,3 M1,6 L4,6 L4,13.5 L6,12 M7,2.5 L15.5,2.5 M11.5,2.5 L11.5,14.5 M11.5,8 L15,8 M8.5,7 L8.5,14.5 M6.5,14.5 L16,14.5" fill="none" stroke="#e6e6e6" stroke-width="1.15" stroke-linecap="square"/>
<path transform="translate(40,17.8) scale(1.05,1.1)" d="M1,5 L6.5,5 M4,1 L4,14.8 L2.5,13.8 M1,11 L6.5,8.5 M8.5,1 L8.5,6 L14.8,6 L14.8,4.8 M14,2 L9,4 M8.5,8.5 L14.5,8.5 L14.5,15 L8.5,15 Z M8.5,11.7 L14.5,11.7" fill="none" stroke="#e6e6e6" stroke-width="1.15" stroke-linecap="square"/>
<path transform="translate(57.2,17.8) scale(1.05,1.1)" d="M4.5,1 L4.5,8 M1,4.5 L8,4.5 M1.5,1.5 L3,3.5 M7.5,1.5 L6,3.5 M4.5,5 L1,8 M4.5,5 L8,8 M4,8.5 L2,12 L7,15 M7,9 L5,13 L1,15.3 M1,10.5 L8,10.5 M11,1 L9,6 M10,4 L15.5,4 M14,4 L12,10 L8.5,15.3 M10.5,7 L12.5,11 L16,15.3" fill="none" stroke="#e6e6e6" stroke-width="1.15" stroke-linecap="square"/>
<path transform="translate(103.2,17.8) scale(1.05,1.1)" d="M6.5,1 L4,5 L1,8 M9.5,1 L12,5 L15.5,8 M4,8.5 L12.5,8.5 L12.5,14 L11,15 L9.8,14.3 M8,8.5 L7,12 L3,15.5" fill="none" stroke="#e6e6e6" stroke-width="1.15" stroke-linecap="square"/>
<path transform="translate(121,17.8) scale(1.05,1.1)" d="M3.5,1 L1,5 M3,3 L7,3 M1.5,6.5 L6.5,6.5 M1,9.5 L7,9.5 M4,6.5 L4,15 L6.5,13 M9,5 L15.5,5 L15.5,11 L9,11 Z M12.2,1 L12.2,16" fill="none" stroke="#e6e6e6" stroke-width="1.15" stroke-linecap="square"/>
<path transform="translate(142.8,17.8) scale(1.05,1.1)" d="M4,1 L5.5,3.5 M12,1 L10.5,3.5 M1,4.5 L15.5,4.5 M2.5,15.5 L2.5,7 L7.5,7 L7.5,15 L6.3,14.5 M2.5,9.7 L7.5,9.7 M2.5,12.3 L7.5,12.3 M10.5,7 L10.5,13 M14.5,6 L14.5,15 L13,14.5" fill="none" stroke="#e6e6e6" stroke-width="1.15" stroke-linecap="square"/>
<path transform="translate(161,17.8) scale(1.05,1.1)" d="M5,1 L2,4.5 M4,2.5 L15,2.5 M4.5,4.5 L12.5,4.5 L12.5,9 L4.5,9 Z M4.5,6.7 L12.5,6.7 M6,9.5 L3,12.5 M5.5,10.5 L12,10.5 L8,14 L2,16 M5,11.5 L9,13.5 L15.5,16" fill="none" stroke="#e6e6e6" stroke-width="1.15" stroke-linecap="square"/>
<path transform="translate(179.2,17.8) scale(1.05,1.1)" d="M1,5 L7,5 M4,1 L4,15.5 M4,5.5 L1,11 M4,6.5 L7,9.5 M8.5,3 L15,3 L12,10 L8,15.5 M9.5,5 L12,10 L16,15.5" fill="none" stroke="#e6e6e6" stroke-width="1.15" stroke-linecap="square"/>
<text x="74.50" y="32.8" font-family="Liberation Sans, sans-serif" font-size="18" fill="#e6e6e6" textLength="27.92" lengthAdjust="spacingAndGlyphs" stroke="#000" stroke-width="0.22">(60</text>
<text x="230.70" y="32.8" font-family="Liberation Sans, sans-serif" font-size="18" fill="#e6e6e6" textLength="119.14" lengthAdjust="spacingAndGlyphs" stroke="#000" stroke-width="0.22">EXPMA(12,50)</text>
<text x="355.10" y="32.8" font-family="Liberation Sans, sans-serif" font-size="18" fill="#e6e6e6" textLength="121.45" lengthAdjust="spacingAndGlyphs" stroke="#000" stroke-width="0.22">EXP1: 2929.80</text>
<text x="484.00" y="32.8" font-family="Liberation Sans, sans-serif" font-size="18" fill="#ffff00" textLength="121.24" lengthAdjust="spacingAndGlyphs" stroke="#000" stroke-width="0.22">EXP2: 2953.17</text>
<text x="2.00" y="559.3" font-family="Liberation Sans, sans-serif" font-size="18" fill="#e6e6e6" textLength="180.80" lengthAdjust="spacingAndGlyphs" stroke="#000" stroke-width="0.22">VOLUME: 3113731.00</text>
<text x="190.00" y="559.3" font-family="Liberation Sans, sans-serif" font-size="18" fill="#e6e6e6" textLength="143.77" lengthAdjust="spacingAndGlyphs" stroke="#000" stroke-width="0.22">MA5: 3664906.75</text>
<text x="339.70" y="559.3" font-family="Liberation Sans, sans-serif" font-size="18" fill="#ffff00" textLength="153.75" lengthAdjust="spacingAndGlyphs" stroke="#000" stroke-width="0.22">MA10: 3796305.50</text>
<text x="1.00" y="735.3" font-family="Liberation Sans, sans-serif" font-size="18" fill="#e6e6e6" textLength="88.76" lengthAdjust="spacingAndGlyphs" stroke="#000" stroke-width="0.22">KDJ(9,3,3)</text>
<text x="95.20" y="735.3" font-family="Liberation Sans, sans-serif" font-size="18" fill="#e6e6e6" textLength="69.63" lengthAdjust="spacingAndGlyphs" stroke="#000" stroke-width="0.22">K: 15.63</text>
<text x="170.50" y="735.3" font-family="Liberation Sans, sans-serif" font-size="18" fill="#ffff00" textLength="69.59" lengthAdjust="spacingAndGlyphs" stroke="#000" stroke-width="0.22">D: 12.53</text>
<text x="246.50" y="735.3" font-family="Liberation Sans, sans-serif" font-size="18" fill="#ff00ff" textLength="65.99" lengthAdjust="spacingAndGlyphs" stroke="#000" stroke-width="0.22">J: 21.82</text>
<text x="649.80" y="58.8" font-family="Liberation Sans, sans-serif" font-size="18" fill="#e6e6e6" textLength="66.59" lengthAdjust="spacingAndGlyphs" stroke="#000" stroke-width="0.22">3042.93</text>
<text x="28.30" y="521.8" font-family="Liberation Sans, sans-serif" font-size="18" fill="#e6e6e6" textLength="68.07" lengthAdjust="spacingAndGlyphs" stroke="#000" stroke-width="0.22">2733.92</text>
<g clip-path="url(#ct)">
<text x="1405.80" y="159.8" font-family="Liberation Sans, sans-serif" font-size="18" fill="#e6e6e6" textLength="66.59" lengthAdjust="spacingAndGlyphs" stroke="#000" stroke-width="0.22">2962.88</text>
</g>
<text x="140.00" y="32.8" font-family="Liberation Sans, sans-serif" font-size="18" fill="#e6e6e6" stroke="#000" stroke-width="0.22">.</text>
<text x="197.20" y="32.8" font-family="Liberation Sans, sans-serif" font-size="18" fill="#e6e6e6" stroke="#000" stroke-width="0.22">)</text>
<use href="#ra" x="219.7" y="17.8" fill="#ff0000"/>
<g clip-path="url(#cm)">
<line x1="2.3" y1="165.2" x2="1468.5" y2="165.2" stroke="#ffff00" stroke-width="2.0"/>
<line x1="576.7" y1="40.9" x2="1468.5" y2="112.9" stroke="#ffff00" stroke-width="1.8"/>
<line x1="2" y1="345.6" x2="1064" y2="41" stroke="#ffff00" stroke-width="1.8"/>
<line x1="2" y1="369.6" x2="1468.5" y2="212" stroke="#ffff00" stroke-width="1.8"/>
<line x1="2" y1="518.7" x2="1468.5" y2="97.6" stroke="#ffff00" stroke-width="1.8"/>
</g>
</g>
<rect x="0" y="0" width="1504" height="13" fill="url(#tb)"/>
<rect x="3" y="0" width="24" height="3.4" fill="#ffffff"/>
<path d="M6,1.5 l3,1" stroke="#e04040" stroke-width="1"/>
<rect x="581" y="-2" width="57" height="11" fill="#e9e9e9" stroke="#b4b4b4" stroke-width="1"/>
<rect x="648.5" y="-2" width="57.0" height="11" fill="#e9e9e9" stroke="#b4b4b4" stroke-width="1"/>
<path d="M56.0,0 v2.6 M51.9,2.7 l2.2,-2.7 M54.2,2.7 l2.2,-2.7 M47.9,2.7 l2.2,-2.7 M61.2,0 v2.6 M66.5,0 l2.4,2.7 M62.0,0 v2.6 M61.5,2.7 l2.2,-2.7" stroke="#1a1a1a" stroke-width="1.3" stroke-opacity="0.9" fill="none"/>
<path d="M122.4,0 l2.4,2.7 M118.9,2.7 l2.2,-2.7 M118.3,0 v2.6 M137.7,2.7 l2.2,-2.7 M133.1,0 l2.4,2.7 M130.2,0 l2.4,2.7" stroke="#1a1a1a" stroke-width="1.3" stroke-opacity="0.9" fill="none"/>
<path d="M180.5,2.7 l2.2,-2.7 M183.5,0 l2.4,2.7 M174.8,2.7 l2.2,-2.7 M194.3,2.7 l2.2,-2.7 M198.5,2.7 l2.2,-2.7 M190.5,0 l2.4,2.7 M195.8,2.7 l2.2,-2.7" stroke="#1a1a1a" stroke-width="1.3" stroke-opacity="0.9" fill="none"/>
<path d="M245.7,0 v2.6 M243.3,0 v2.6 M240.5,0 l2.4,2.7 M245.9,0 l2.4,2.7 M245.7,2.7 l2.2,-2.7 M259.1,2.2 h3.5 M260.1,2.7 l2.2,-2.7 M254.0,0 v2.6 M254.6,1.2 h3.5" stroke="#1a1a1a" stroke-width="1.3" stroke-opacity="0.9" fill="none"/>
<path d="M296.5,0 l2.4,2.7 M297.0,2.7 l2.2,-2.7 M303.3,2.2 h5 M300.5,0 v2.6 M303.4,0 v2.6 M323.5,2.2 h5 M321.2,2.7 l2.2,-2.7 M322.1,2.2 h3.5 M340.8,1.2 h3.5 M334.0,2.7 l2.2,-2.7 M331.0,2.7 l2.2,-2.7 M332.3,1.2 h5 M332.7,0 v2.6 M347.3,0 v2.6 M351.4,1.2 h3.5 M357.3,2.2 h3.5 M355.0,0 v2.6 M358.5,0 l2.4,2.7" stroke="#1a1a1a" stroke-width="1.3" stroke-opacity="0.9" fill="none"/>
<path d="M387.6,0 l2.4,2.7 M394.9,2.7 l2.2,-2.7 M392.3,2.7 l2.2,-2.7 M407.9,2.7 l2.2,-2.7 M406.2,2.7 l2.2,-2.7 M409.5,2.7 l2.2,-2.7 M408.8,0 l2.4,2.7" stroke="#1a1a1a" stroke-width="1.3" stroke-opacity="0.9" fill="none"/>
<path d="M456.9,0 l2.4,2.7 M461.4,0 v2.6 M456.2,0 v2.6 M474.3,0 v2.6 M468.8,2.7 l2.2,-2.7 M480.8,0 v2.6" stroke="#1a1a1a" stroke-width="1.3" stroke-opacity="0.9" fill="none"/>
<path d="M517.5,2.7 l2.2,-2.7 M516.7,2.7 l2.2,-2.7 M523.7,2.7 l2.2,-2.7 M517.4,1.2 h2.5 M541.8,0 l2.4,2.7 M542.1,2.2 h3.5 M535.2,0 v2.6 M546.9,0 v2.6" stroke="#1a1a1a" stroke-width="1.3" stroke-opacity="0.9" fill="none"/>
<path d="M997.9,2.7 l2.2,-2.7 M993.1,0 l2.4,2.7 M995.9,2.2 h5 M993.3,2.7 l2.2,-2.7 M993.9,2.7 l2.2,-2.7 M1011.4,2.7 l2.2,-2.7 M1022.4,2.7 l2.2,-2.7 M1013.6,0 l2.4,2.7 M1021.7,0 l2.4,2.7 M1035.1,0 l2.4,2.7 M1032.8,0 l2.4,2.7 M1035.3,2.7 l2.2,-2.7 M1032.4,0 l2.4,2.7 M1057.6,0 v2.6 M1056.6,0 l2.4,2.7 M1048.9,0 v2.6 M1051.1,2.7 l2.2,-2.7 M1075.7,0 v2.6 M1068.0,0 l2.4,2.7 M1073.0,2.2 h5 M1096.4,1.2 h2.5 M1084.1,0 v2.6 M1085.5,0 l2.4,2.7 M1089.6,2.7 l2.2,-2.7" stroke="#1a1a1a" stroke-width="1.3" stroke-opacity="0.9" fill="none"/>
<path d="M1125.4,0 l2.4,2.7 M1123.6,0 l2.4,2.7 M1120.1,0 l2.4,2.7 M1148.6,0 l2.4,2.7 M1146.5,0 v2.6 M1148.3,0 v2.6 M1155.0,0 l2.4,2.7 M1159.1,0 v2.6 M1163.8,2.7 l2.2,-2.7 M1163.5,0 l2.4,2.7 M1171.6,2.7 l2.2,-2.7 M1183.3,0 l2.4,2.7 M1173.2,2.7 l2.2,-2.7 M1184.3,0 l2.4,2.7 M1190.7,2.7 l2.2,-2.7 M1190.4,2.7 l2.2,-2.7 M1199.3,0 l2.4,2.7 M1197.3,2.7 l2.2,-2.7" stroke="#1a1a1a" stroke-width="1.3" stroke-opacity="0.9" fill="none"/>
<path d="M597.1,0 l2.4,2.7 M602.6,0 l2.4,2.7 M591.4,0 l2.4,2.7 M595.1,0 l2.4,2.7 M612.6,0 v2.6 M620.7,2.7 l2.2,-2.7 M621.7,2.2 h5 M617.2,2.7 l2.2,-2.7" stroke="#f01010" stroke-width="1.3" stroke-opacity="0.9" fill="none"/>
<path d="M670.6,2.7 l2.2,-2.7 M660.8,0 l2.4,2.7 M666.3,2.7 l2.2,-2.7 M671.2,0 l2.4,2.7 M667.5,0 l2.4,2.7 M679.0,2.7 l2.2,-2.7 M687.2,2.7 l2.2,-2.7 M677.9,0 l2.4,2.7 M684.3,2.7 l2.2,-2.7" stroke="#f01010" stroke-width="1.3" stroke-opacity="0.9" fill="none"/>
<path d="M1497,0 q1,4 7,4" stroke="#f6f6f6" stroke-width="1.5" fill="none"/>
<rect x="0" y="12.4" width="2.3" height="884.6" fill="#d0d0d0"/>
</svg></body></html>
